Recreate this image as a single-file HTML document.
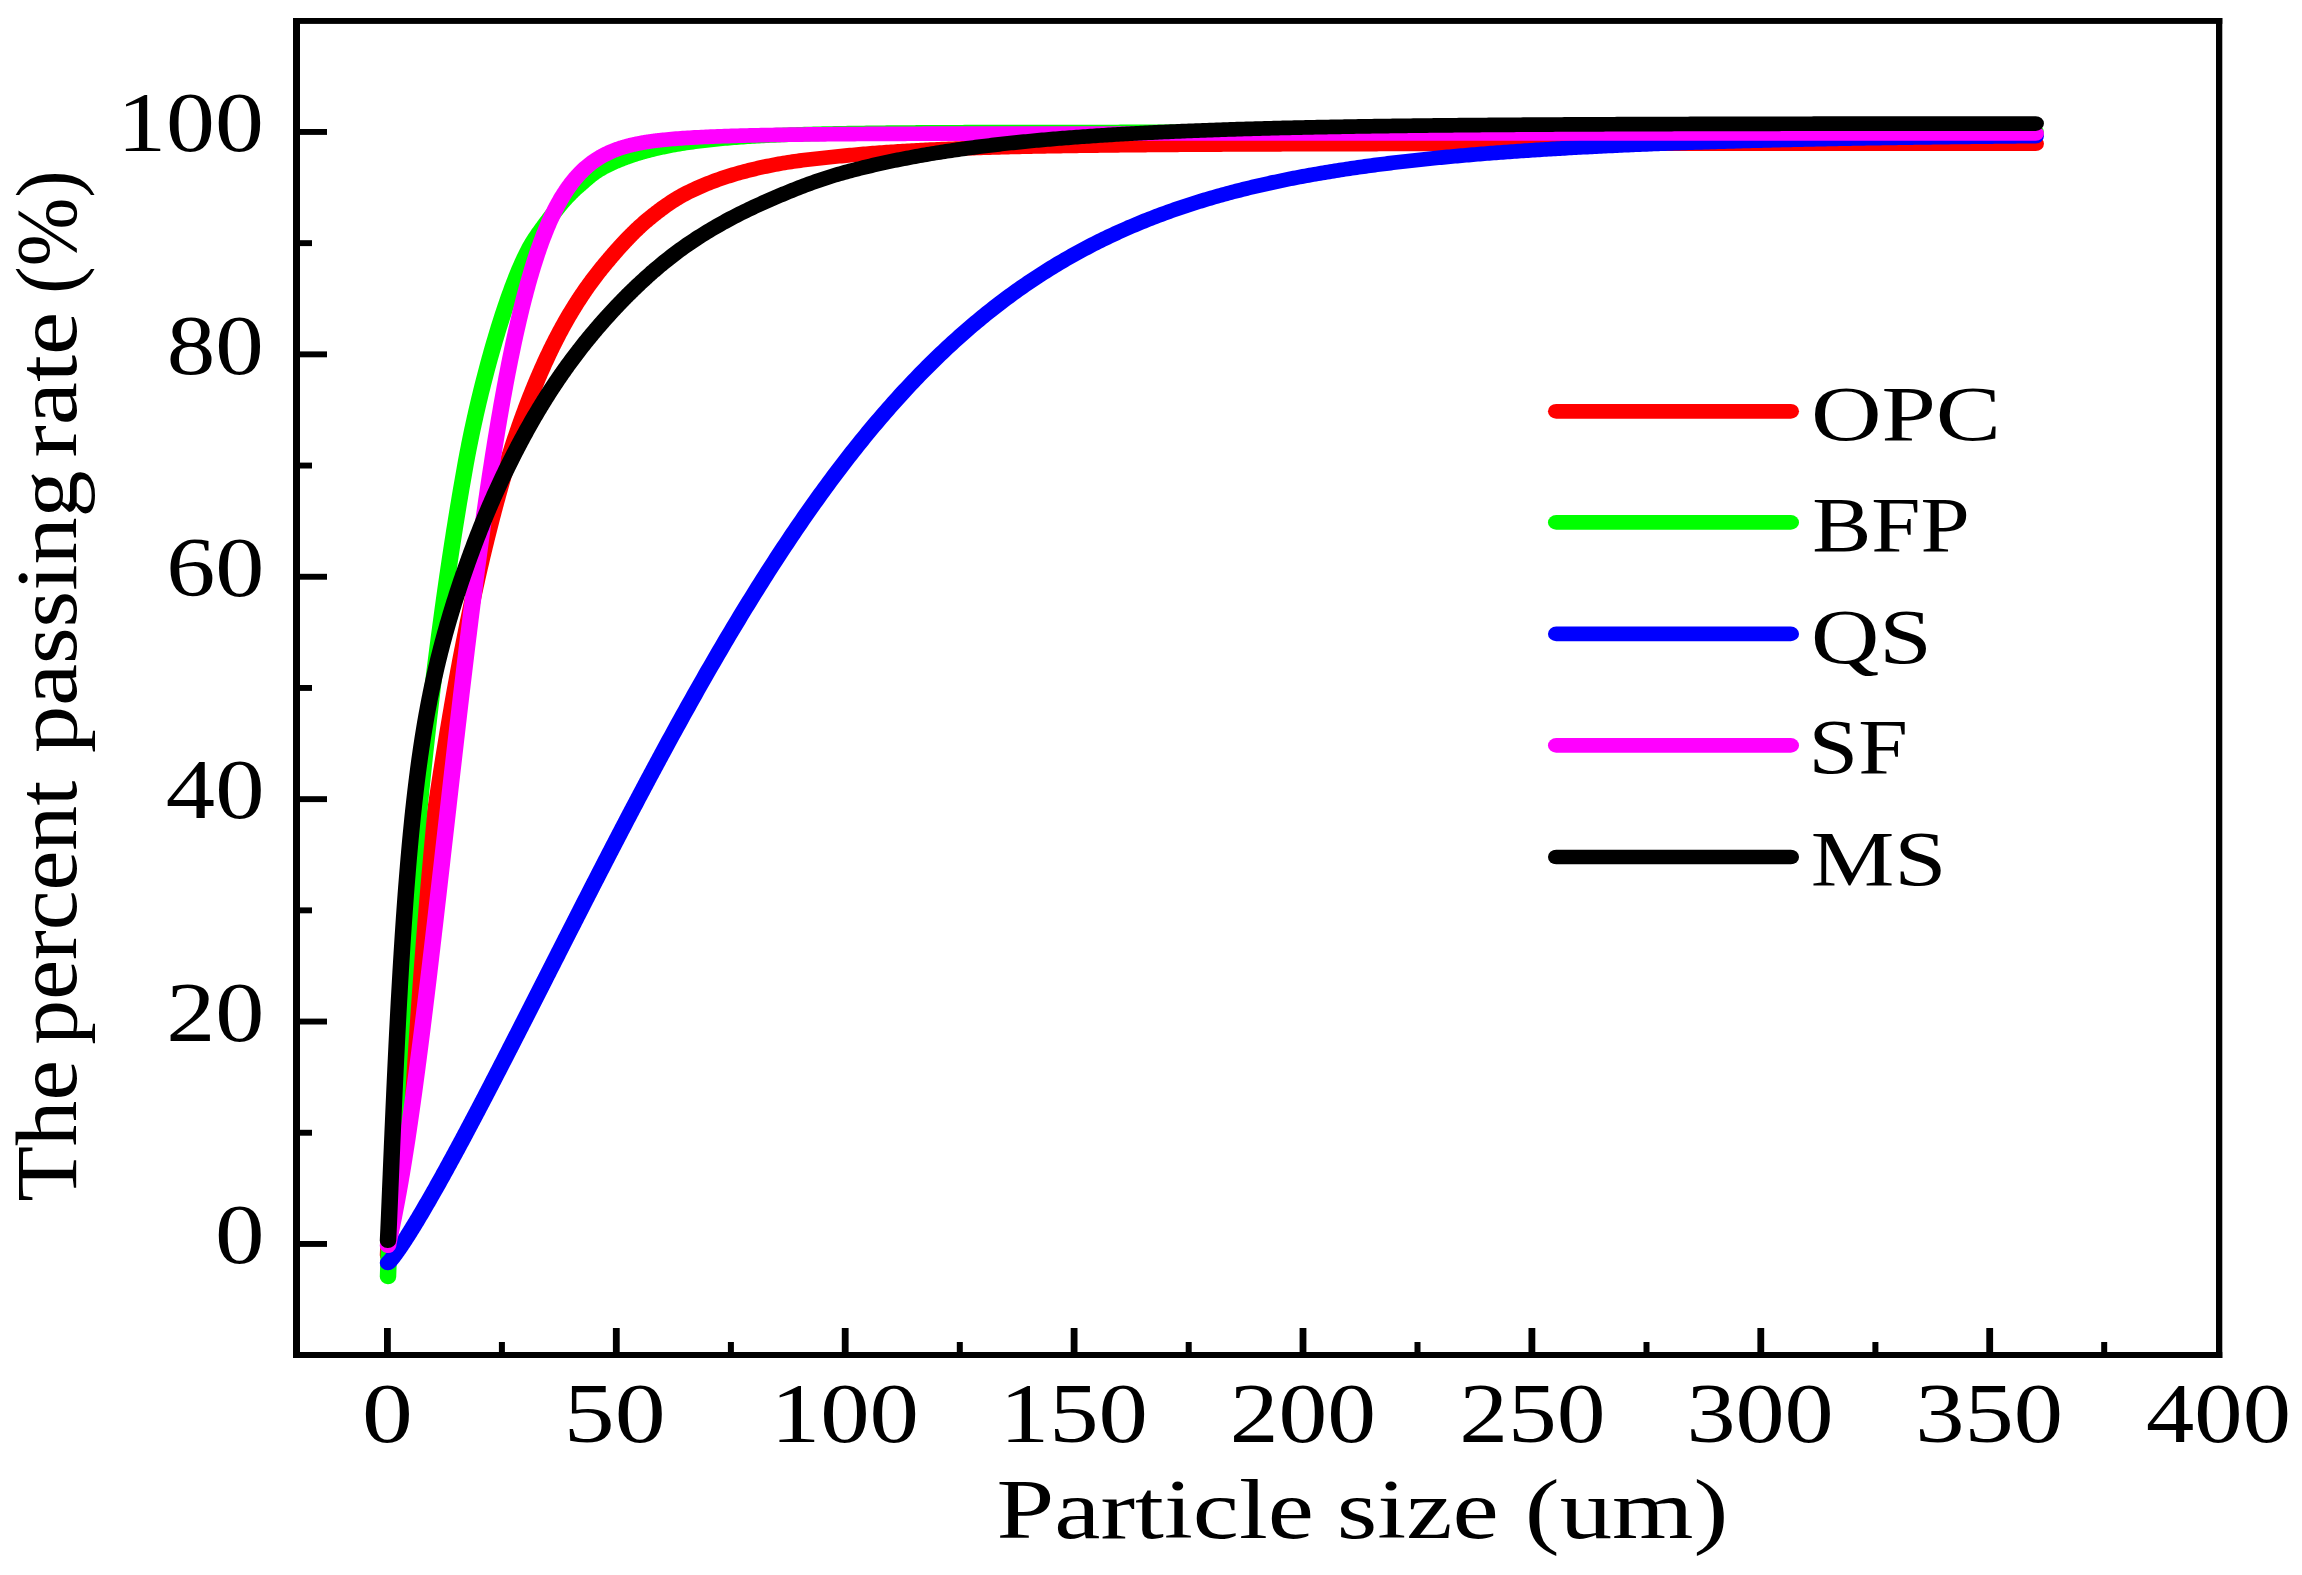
<!DOCTYPE html>
<html><head><meta charset="utf-8"><title>Particle size distribution</title>
<style>html,body{margin:0;padding:0;background:#fff}svg{display:block}text{font-family:"Liberation Serif",serif;fill:#000}</style></head><body>
<svg width="2302" height="1575" viewBox="0 0 2302 1575">
<rect width="2302" height="1575" fill="#fff"/>
<g transform="scale(1.12 1)" fill="none" stroke-width="14.7" stroke-linecap="round" stroke-linejoin="round">
<path stroke="#ff0000" d="M346.43 1255.12L346.94 1243.17L347.45 1233.96L347.96 1225.49L348.47 1217.47L348.98 1209.76L349.49 1202.30L350.00 1195.02L350.52 1187.92L351.03 1180.95L351.54 1174.12L352.05 1167.39L352.56 1160.77L353.07 1154.25L353.58 1147.81L354.09 1141.45L354.60 1135.17L355.11 1128.97L355.62 1122.83L356.13 1116.75L356.65 1110.74L357.16 1104.79L357.67 1098.90L358.18 1093.06L358.69 1087.27L359.20 1081.53L359.71 1075.85L360.22 1070.21L360.73 1064.62L361.24 1059.08L361.75 1053.58L362.26 1048.12L362.77 1042.71L363.29 1037.33L363.80 1032.00L364.31 1026.71L364.82 1021.45L365.33 1016.24L365.84 1011.06L366.35 1005.92L366.86 1000.82L367.37 995.75L367.88 990.71L368.39 985.72L368.90 980.75L369.42 975.82L369.93 970.92L370.44 966.05L370.95 961.22L371.46 956.42L371.97 951.65L372.48 946.91L372.99 942.20L373.50 937.52L374.01 932.87L374.52 928.25L375.03 923.66L375.55 919.10L376.06 914.57L376.57 910.07L377.08 905.59L377.59 901.14L378.10 896.72L378.61 892.33L379.12 887.96L379.63 883.62L380.14 879.31L380.65 875.02L381.16 870.76L381.68 866.53L382.19 862.32L382.70 858.13L383.21 853.97L383.72 849.84L384.23 845.73L384.74 841.64L385.25 837.58L385.76 833.55L386.27 829.53L386.78 825.55L387.29 821.58L387.81 817.64L388.32 813.72L388.83 809.83L389.34 805.95L389.85 802.10L390.36 798.28L390.87 794.47L391.38 790.69L391.89 786.93L392.40 783.19L392.91 779.47L393.42 775.78L393.94 772.11L394.45 768.45L394.96 764.82L395.47 761.21L395.98 757.62L396.49 754.06L397.00 750.51L397.51 746.98L398.02 743.48L398.53 739.99L399.04 736.52L399.55 733.08L400.07 729.65L400.58 726.24L401.09 722.86L401.60 719.49L402.11 716.14L402.62 712.81L403.13 709.50L403.64 706.21L404.15 702.94L404.66 699.69L405.17 696.46L405.68 693.24L406.20 690.04L406.71 686.86L407.22 683.70L407.73 680.56L408.24 677.44L408.75 674.33L409.26 671.24L409.77 668.17L410.28 665.12L410.79 662.08L411.30 659.06L411.81 656.06L412.33 653.08L412.84 650.11L413.35 647.16L413.86 644.23L414.37 641.31L414.88 638.42L415.39 635.53L415.90 632.67L416.41 629.82L416.92 626.98L417.43 624.17L417.94 621.37L418.46 618.58L418.97 615.81L419.48 613.06L419.99 610.32L420.50 607.60L421.01 604.89L421.52 602.20L422.03 599.53L422.54 596.87L423.05 594.22L423.56 591.59L424.07 588.98L424.58 586.38L425.10 583.79L425.61 581.22L426.12 578.67L426.63 576.13L427.14 573.60L427.65 571.09L428.16 568.59L428.67 566.11L429.18 563.64L429.69 561.19L430.20 558.75L430.71 556.32L431.23 553.91L431.74 551.51L432.25 549.13L432.76 546.76L433.27 544.40L433.78 542.06L434.29 539.73L434.80 537.41L435.31 535.11L435.82 532.82L436.33 530.54L436.84 528.28L437.36 526.03L437.87 523.79L438.38 521.56L438.89 519.35L439.40 517.15L439.91 514.97L440.42 512.79L440.93 510.63L441.44 508.48L441.95 506.34L442.46 504.22L442.97 502.11L443.49 500.01L444.00 497.92L444.51 495.85L445.02 493.78L445.53 491.73L446.04 489.69L446.55 487.66L447.06 485.65L447.57 483.64L448.08 481.65L448.59 479.67L449.10 477.70L449.62 475.74L450.13 473.80L450.64 471.87L451.15 469.95L451.66 468.04L452.17 466.15L452.68 464.27L453.19 462.40L453.70 460.54L454.21 458.69L454.72 456.86L455.23 455.04L455.75 453.23L456.26 451.43L456.77 449.64L457.28 447.87L457.79 446.10L458.30 444.35L458.81 442.61L459.32 440.88L459.83 439.16L460.34 437.45L460.85 435.75L461.36 434.06L461.88 432.39L462.39 430.72L462.90 429.06L463.41 427.42L463.92 425.78L464.43 424.16L464.94 422.54L465.45 420.93L465.96 419.34L466.47 417.75L466.98 416.18L467.49 414.61L468.01 413.05L468.52 411.50L469.03 409.96L469.54 408.43L470.05 406.91L470.56 405.40L471.07 403.90L471.58 402.40L472.09 400.92L472.60 399.44L473.11 397.98L473.62 396.52L474.14 395.07L474.65 393.62L475.16 392.19L475.67 390.76L476.18 389.34L476.69 387.93L477.20 386.53L477.71 385.14L478.22 383.75L478.73 382.37L479.24 381.00L479.75 379.64L480.26 378.28L480.78 376.93L481.29 375.59L481.80 374.25L482.31 372.93L482.82 371.61L483.33 370.30L483.84 369.00L484.35 367.70L484.86 366.42L485.37 365.14L485.88 363.87L486.39 362.61L486.91 361.35L487.42 360.11L487.93 358.87L488.44 357.63L488.95 356.41L489.46 355.19L489.97 353.98L490.48 352.78L490.99 351.59L491.50 350.40L492.01 349.22L492.52 348.05L493.04 346.88L493.55 345.72L494.06 344.57L494.57 343.43L495.08 342.29L495.59 341.16L496.10 340.03L496.61 338.92L497.12 337.81L497.63 336.70L498.14 335.60L498.65 334.51L499.17 333.43L499.68 332.35L500.19 331.28L500.70 330.22L501.21 329.16L501.72 328.11L502.23 327.06L502.74 326.02L503.25 324.99L503.76 323.97L504.27 322.94L504.78 321.93L505.30 320.92L505.81 319.92L506.32 318.92L506.83 317.93L507.34 316.95L507.85 315.97L508.36 315.00L508.87 314.03L509.38 313.07L509.89 312.11L510.40 311.16L510.91 310.22L511.43 309.28L511.94 308.35L512.45 307.42L512.96 306.50L513.47 305.58L513.98 304.67L514.49 303.76L515.00 302.86L515.51 301.96L516.02 301.07L516.53 300.19L517.04 299.31L517.56 298.43L518.07 297.56L518.58 296.69L519.09 295.83L519.60 294.98L520.11 294.13L520.62 293.28L521.13 292.44L521.64 291.60L522.15 290.77L522.66 289.95L523.17 289.12L523.69 288.31L524.20 287.49L524.71 286.68L525.22 285.88L525.73 285.08L526.24 284.29L526.75 283.50L527.26 282.71L527.77 281.93L528.28 281.15L528.79 280.38L529.30 279.61L529.82 278.84L530.33 278.08L530.84 277.32L531.35 276.57L531.86 275.82L532.37 275.08L532.88 274.34L533.39 273.60L533.90 272.87L534.41 272.14L534.92 271.42L535.43 270.69L535.94 269.98L536.46 269.26L536.97 268.55L537.48 267.85L537.99 267.14L538.50 266.45L539.01 265.75L539.52 265.06L540.03 264.36L540.54 263.67L541.05 262.98L541.56 262.30L542.07 261.61L542.59 260.93L543.10 260.25L543.61 259.57L544.12 258.90L544.63 258.22L545.14 257.55L545.65 256.88L546.16 256.22L546.67 255.55L547.18 254.89L547.69 254.23L548.20 253.57L548.72 252.91L549.23 252.26L549.74 251.61L550.25 250.96L550.76 250.31L551.27 249.67L551.78 249.03L552.29 248.39L552.80 247.75L553.31 247.12L553.82 246.49L554.33 245.86L554.85 245.23L555.36 244.61L555.87 243.99L556.38 243.37L556.89 242.75L557.40 242.14L557.91 241.53L558.42 240.92L558.93 240.32L559.44 239.72L559.95 239.12L560.46 238.52L560.98 237.93L561.49 237.34L562.00 236.75L562.51 236.17L563.02 235.59L563.53 235.01L564.04 234.43L564.55 233.86L565.06 233.29L565.57 232.72L566.08 232.16L566.59 231.60L567.11 231.05L567.62 230.49L568.13 229.94L568.64 229.40L569.15 228.85L569.66 228.31L570.17 227.78L570.68 227.24L571.19 226.71L571.70 226.19L572.21 225.66L572.72 225.15L573.24 224.63L573.75 224.12L574.26 223.61L574.77 223.10L575.28 222.60L575.79 222.10L576.30 221.61L576.81 221.12L577.32 220.63L577.83 220.15L578.34 219.67L578.85 219.20L579.37 218.73L579.88 218.26L580.39 217.79L580.90 217.33L581.41 216.86L581.92 216.40L582.43 215.94L582.94 215.49L583.45 215.03L583.96 214.58L584.47 214.13L584.98 213.68L585.50 213.23L586.01 212.79L586.52 212.34L587.03 211.90L587.54 211.46L588.05 211.03L588.56 210.59L589.07 210.16L589.58 209.73L590.09 209.30L590.60 208.88L591.11 208.46L591.62 208.04L593.67 206.38L595.71 204.77L597.75 203.20L599.80 201.67L601.84 200.20L603.88 198.77L605.93 197.40L607.97 196.08L610.01 194.82L612.06 193.62L614.10 192.46L616.14 191.33L618.19 190.23L620.23 189.15L622.27 188.11L624.32 187.09L626.36 186.10L628.40 185.13L630.45 184.18L632.49 183.26L634.53 182.37L636.58 181.49L638.62 180.64L640.66 179.81L642.71 179.00L644.75 178.21L646.79 177.44L648.84 176.70L650.88 175.97L652.92 175.25L654.97 174.56L657.01 173.88L659.05 173.22L661.10 172.58L663.14 171.95L665.18 171.34L667.23 170.75L669.27 170.17L671.31 169.60L673.36 169.05L675.40 168.51L677.44 167.99L679.49 167.47L681.53 166.97L683.57 166.49L685.62 166.01L687.66 165.55L689.70 165.09L691.75 164.65L693.79 164.22L695.83 163.80L697.88 163.40L699.92 163.01L701.96 162.63L704.01 162.27L706.05 161.92L708.09 161.58L710.14 161.25L712.18 160.93L714.22 160.62L716.27 160.32L718.31 160.03L720.35 159.75L722.40 159.48L724.44 159.21L726.48 158.95L728.53 158.69L730.57 158.44L732.61 158.19L734.66 157.95L736.70 157.71L738.74 157.48L740.79 157.24L742.83 157.01L744.87 156.78L746.92 156.55L748.96 156.32L751.00 156.10L753.05 155.87L755.09 155.63L757.13 155.40L759.18 155.18L761.22 154.96L763.26 154.75L765.31 154.54L767.35 154.33L769.39 154.13L771.44 153.93L773.48 153.74L775.52 153.55L777.57 153.37L779.61 153.18L781.65 153.01L783.70 152.83L785.74 152.66L787.78 152.50L789.83 152.34L791.87 152.18L793.91 152.02L795.96 151.87L798.00 151.72L800.04 151.57L802.09 151.43L804.13 151.29L806.17 151.15L808.22 151.02L810.26 150.89L812.30 150.76L814.35 150.63L816.39 150.51L818.43 150.39L820.47 150.27L822.52 150.15L824.56 150.04L826.60 149.92L828.65 149.82L830.69 149.71L832.73 149.60L834.78 149.50L836.82 149.40L838.86 149.30L840.91 149.20L842.95 149.11L844.99 149.01L847.04 148.92L849.08 148.83L851.12 148.74L853.17 148.66L855.21 148.57L857.25 148.49L859.30 148.41L861.34 148.33L863.38 148.25L865.43 148.17L867.47 148.10L869.51 148.03L871.56 147.95L873.60 147.88L875.64 147.81L877.69 147.74L879.73 147.68L881.77 147.61L883.82 147.55L885.86 147.48L887.90 147.42L889.95 147.36L891.99 147.30L894.03 147.24L896.08 147.18L898.12 147.13L900.16 147.07L902.21 147.02L904.25 146.96L906.29 146.91L908.34 146.86L910.38 146.81L912.42 146.76L914.47 146.71L916.51 146.66L918.55 146.61L920.60 146.57L922.64 146.52L924.68 146.48L926.73 146.43L928.77 146.39L930.81 146.35L932.86 146.31L934.90 146.27L936.94 146.23L938.99 146.19L941.03 146.15L943.07 146.11L945.12 146.07L947.16 146.04L949.20 146.00L951.25 145.96L953.29 145.93L955.33 145.90L957.38 145.86L959.42 145.83L961.46 145.80L963.51 145.76L965.55 145.73L967.59 145.70L969.64 145.67L971.68 145.64L973.72 145.61L975.77 145.58L977.81 145.55L979.85 145.53L981.90 145.50L983.94 145.47L985.98 145.45L988.03 145.42L990.07 145.39L992.11 145.37L994.16 145.34L996.20 145.32L998.24 145.30L1000.29 145.27L1002.33 145.25L1004.37 145.23L1006.42 145.20L1008.46 145.18L1010.50 145.16L1012.55 145.14L1014.59 145.12L1016.63 145.10L1018.68 145.08L1020.72 145.06L1022.76 145.04L1024.81 145.02L1026.85 145.00L1028.89 144.98L1030.94 144.96L1032.98 144.94L1035.02 144.92L1037.07 144.91L1039.11 144.89L1041.15 144.87L1043.20 144.85L1045.24 144.84L1047.28 144.82L1049.33 144.81L1051.37 144.79L1053.41 144.77L1055.45 144.76L1057.50 144.74L1059.54 144.73L1061.58 144.71L1063.63 144.70L1065.67 144.68L1067.71 144.67L1069.76 144.66L1071.80 144.64L1073.84 144.63L1075.89 144.62L1077.93 144.60L1079.97 144.59L1082.02 144.58L1084.06 144.57L1086.10 144.55L1088.15 144.54L1090.19 144.53L1092.23 144.52L1094.28 144.51L1096.32 144.50L1098.36 144.48L1100.41 144.47L1102.45 144.46L1104.49 144.45L1106.54 144.44L1108.58 144.43L1110.62 144.42L1112.67 144.41L1114.71 144.40L1116.75 144.39L1118.80 144.38L1120.84 144.37L1122.88 144.36L1124.93 144.35L1126.97 144.34L1129.01 144.34L1131.06 144.33L1133.10 144.32L1135.14 144.31L1137.19 144.30L1139.23 144.29L1141.27 144.29L1143.32 144.28L1145.36 144.27L1147.40 144.26L1149.45 144.25L1151.49 144.25L1153.53 144.24L1155.58 144.23L1157.62 144.22L1159.66 144.22L1161.71 144.21L1163.75 144.20L1165.79 144.20L1167.84 144.19L1169.88 144.18L1171.92 144.18L1173.97 144.17L1176.01 144.16L1178.05 144.16L1180.10 144.15L1182.14 144.14L1184.18 144.14L1186.23 144.13L1188.27 144.13L1190.31 144.12L1192.36 144.12L1194.40 144.11L1196.44 144.10L1198.49 144.10L1200.53 144.09L1202.57 144.09L1204.62 144.08L1206.66 144.08L1208.70 144.07L1210.75 144.07L1212.79 144.06L1214.83 144.06L1216.88 144.05L1218.92 144.05L1220.96 144.04L1223.01 144.04L1225.05 144.03L1227.09 144.03L1229.14 144.03L1231.18 144.02L1233.22 144.02L1235.27 144.01L1237.31 144.01L1239.35 144.00L1241.40 144.00L1243.44 144.00L1245.48 143.99L1247.53 143.99L1249.57 143.98L1251.61 143.98L1253.66 143.98L1255.70 143.97L1257.74 143.97L1259.79 143.97L1261.83 143.96L1263.87 143.96L1265.92 143.95L1267.96 143.95L1270.00 143.95L1272.05 143.94L1274.09 143.94L1276.13 143.94L1278.17 143.94L1280.22 143.93L1282.26 143.93L1284.30 143.93L1286.35 143.92L1288.39 143.92L1290.43 143.92L1292.48 143.91L1294.52 143.91L1296.56 143.91L1298.61 143.91L1300.65 143.90L1302.69 143.90L1304.74 143.90L1306.78 143.89L1308.82 143.89L1310.87 143.89L1312.91 143.89L1314.95 143.88L1317.00 143.88L1319.04 143.88L1321.08 143.88L1323.13 143.87L1325.17 143.87L1327.21 143.87L1329.26 143.87L1331.30 143.87L1333.34 143.86L1335.39 143.86L1337.43 143.86L1339.47 143.86L1341.52 143.85L1343.56 143.85L1345.60 143.85L1347.65 143.85L1349.69 143.85L1351.73 143.84L1353.78 143.84L1355.82 143.84L1357.86 143.84L1359.91 143.84L1361.95 143.84L1363.99 143.83L1366.04 143.83L1368.08 143.83L1370.12 143.83L1372.17 143.83L1374.21 143.82L1376.25 143.82L1378.30 143.82L1380.34 143.82L1382.38 143.82L1384.43 143.82L1386.47 143.82L1388.51 143.81L1390.56 143.81L1392.60 143.81L1394.64 143.81L1396.69 143.81L1398.73 143.81L1400.77 143.80L1402.82 143.80L1404.86 143.80L1406.90 143.80L1408.95 143.80L1410.99 143.80L1413.03 143.80L1415.08 143.80L1417.12 143.79L1419.16 143.79L1421.21 143.79L1423.25 143.79L1425.29 143.79L1427.34 143.79L1429.38 143.79L1431.42 143.79L1433.47 143.78L1435.51 143.78L1437.55 143.78L1439.60 143.78L1441.64 143.78L1443.68 143.78L1445.73 143.78L1447.77 143.78L1449.81 143.78L1451.86 143.77L1453.90 143.77L1455.94 143.77L1457.99 143.77L1460.03 143.77L1462.07 143.77L1464.12 143.77L1466.16 143.77L1468.20 143.77L1470.25 143.77L1472.29 143.76L1474.33 143.76L1476.38 143.76L1478.42 143.76L1480.46 143.76L1482.51 143.76L1484.55 143.76L1486.59 143.76L1488.64 143.76L1490.68 143.76L1492.72 143.76L1494.77 143.76L1496.81 143.75L1498.85 143.75L1500.90 143.75L1502.94 143.75L1504.98 143.75L1507.02 143.75L1509.07 143.75L1511.11 143.75L1513.15 143.75L1515.20 143.75L1517.24 143.75L1519.28 143.75L1521.33 143.75L1523.37 143.75L1525.41 143.74L1527.46 143.74L1529.50 143.74L1531.54 143.74L1533.59 143.74L1535.63 143.74L1537.67 143.74L1539.72 143.74L1541.76 143.74L1543.80 143.74L1545.85 143.74L1547.89 143.74L1549.93 143.74L1551.98 143.74L1554.02 143.74L1556.06 143.74L1558.11 143.74L1560.15 143.73L1562.19 143.73L1564.24 143.73L1566.28 143.73L1568.32 143.73L1570.37 143.73L1572.41 143.73L1574.45 143.73L1576.50 143.73L1578.54 143.73L1580.58 143.73L1582.63 143.73L1584.67 143.73L1586.71 143.73L1588.76 143.73L1590.80 143.73L1592.84 143.73L1594.89 143.73L1596.93 143.73L1598.97 143.73L1601.02 143.73L1603.06 143.73L1605.10 143.72L1607.15 143.72L1609.19 143.72L1611.23 143.72L1613.28 143.72L1615.32 143.72L1617.36 143.72L1619.41 143.72L1621.45 143.72L1623.49 143.72L1625.54 143.72L1627.58 143.72L1629.62 143.72L1631.67 143.72L1633.71 143.72L1635.75 143.72L1637.80 143.72L1639.84 143.72L1641.88 143.72L1643.93 143.72L1645.97 143.72L1648.01 143.72L1650.06 143.72L1652.10 143.72L1654.14 143.72L1656.19 143.72L1658.23 143.72L1660.27 143.72L1662.32 143.72L1664.36 143.72L1666.40 143.71L1668.45 143.71L1670.49 143.71L1672.53 143.71L1674.58 143.71L1676.62 143.71L1678.66 143.71L1680.71 143.71L1682.75 143.71L1684.79 143.71L1686.84 143.71L1688.88 143.71L1690.92 143.71L1692.97 143.71L1695.01 143.71L1697.05 143.71L1699.10 143.71L1701.14 143.71L1703.18 143.71L1705.23 143.71L1707.27 143.71L1709.31 143.71L1711.36 143.71L1713.40 143.71L1715.44 143.71L1717.49 143.71L1719.53 143.71L1721.57 143.71L1723.62 143.71L1725.66 143.71L1727.70 143.71L1729.75 143.71L1731.79 143.71L1733.83 143.71L1735.88 143.71L1737.92 143.71L1739.96 143.71L1742.00 143.71L1744.05 143.71L1746.09 143.71L1748.13 143.71L1750.18 143.71L1752.22 143.71L1754.26 143.71L1756.31 143.71L1758.35 143.71L1760.39 143.71L1762.44 143.71L1764.48 143.70L1766.52 143.70L1768.57 143.70L1770.61 143.70L1772.65 143.70L1774.70 143.70L1776.74 143.70L1778.78 143.70L1780.83 143.70L1782.87 143.70L1784.91 143.70L1786.96 143.70L1789.00 143.70L1791.04 143.70L1793.09 143.70L1795.13 143.70L1797.17 143.70L1799.22 143.70L1801.26 143.70L1803.30 143.70L1805.35 143.70L1807.39 143.70L1809.43 143.70L1811.48 143.70L1813.52 143.70L1815.56 143.70L1817.61 143.70"/>
<path stroke="#00ff00" d="M346.43 1276.80L346.94 1260.04L347.45 1245.78L347.96 1232.46L348.47 1219.75L348.98 1207.53L349.49 1195.71L350.00 1184.22L350.52 1173.04L351.03 1162.13L351.54 1151.47L352.05 1141.03L352.56 1130.81L353.07 1120.79L353.58 1110.95L354.09 1101.30L354.60 1091.81L355.11 1082.48L355.62 1073.31L356.13 1064.29L356.65 1055.40L357.16 1046.66L357.67 1038.04L358.18 1029.55L358.69 1021.19L359.20 1012.94L359.71 1004.81L360.22 996.79L360.73 988.88L361.24 981.07L361.75 973.37L362.26 965.76L362.77 958.25L363.29 950.84L363.80 943.52L364.31 936.28L364.82 929.14L365.33 922.08L365.84 915.10L366.35 908.21L366.86 901.39L367.37 894.65L367.88 887.99L368.39 881.40L368.90 874.88L369.42 868.43L369.93 862.06L370.44 855.75L370.95 849.51L371.46 843.33L371.97 837.22L372.48 831.17L372.99 825.18L373.50 819.25L374.01 813.38L374.52 807.56L375.03 801.81L375.55 796.11L376.06 790.46L376.57 784.87L377.08 779.33L377.59 773.84L378.10 768.40L378.61 763.01L379.12 757.66L379.63 752.37L380.14 747.12L380.65 741.92L381.16 736.77L381.68 731.65L382.19 726.59L382.70 721.56L383.21 716.58L383.72 711.63L384.23 706.73L384.74 701.87L385.25 697.05L385.76 692.27L386.27 687.52L386.78 682.81L387.29 678.14L387.81 673.51L388.32 668.91L388.83 664.34L389.34 659.81L389.85 655.32L390.36 650.86L390.87 646.43L391.38 642.03L391.89 637.67L392.40 633.34L392.91 629.03L393.42 624.76L393.94 620.53L394.45 616.32L394.96 612.14L395.47 607.99L395.98 603.86L396.49 599.77L397.00 595.71L397.51 591.67L398.02 587.66L398.53 583.68L399.04 579.72L399.55 575.79L400.07 571.89L400.58 568.02L401.09 564.17L401.60 560.34L402.11 556.54L402.62 552.77L403.13 549.02L403.64 545.30L404.15 541.60L404.66 537.92L405.17 534.27L405.68 530.65L406.20 527.04L406.71 523.46L407.22 519.91L407.73 516.38L408.24 512.87L408.75 509.38L409.26 505.92L409.77 502.48L410.28 499.06L410.79 495.67L411.30 492.30L411.81 488.95L412.33 485.62L412.84 482.31L413.35 479.03L413.86 475.77L414.37 472.53L414.88 469.32L415.39 466.12L415.90 462.95L416.42 459.80L416.94 456.67L417.47 453.56L418.00 450.48L418.54 447.42L419.07 444.37L419.62 441.35L420.16 438.36L420.71 435.38L421.26 432.42L421.82 429.49L422.38 426.58L422.94 423.69L423.50 420.82L424.06 417.97L424.63 415.14L425.20 412.34L425.77 409.55L426.34 406.79L426.91 404.05L427.48 401.33L428.06 398.63L428.63 395.95L429.21 393.30L429.79 390.66L430.37 388.05L430.95 385.46L431.52 382.89L432.10 380.34L432.68 377.81L433.26 375.31L433.84 372.82L434.42 370.36L435.00 367.92L435.58 365.50L436.16 363.10L436.74 360.72L437.32 358.36L437.90 356.02L438.47 353.71L439.05 351.41L439.63 349.14L440.20 346.89L440.78 344.65L441.35 342.44L441.92 340.25L442.50 338.08L443.07 335.94L443.64 333.81L444.21 331.70L444.77 329.62L445.34 327.55L445.91 325.51L446.47 323.48L447.04 321.48L447.60 319.49L448.16 317.53L448.72 315.59L449.28 313.66L449.84 311.76L450.40 309.88L450.95 308.01L451.51 306.17L452.06 304.35L452.61 302.54L453.17 300.76L453.72 298.99L454.26 297.24L454.81 295.52L455.36 293.81L455.90 292.12L456.45 290.45L456.99 288.80L457.53 287.16L458.07 285.55L458.60 283.95L459.14 282.37L459.68 280.81L460.21 279.27L460.75 277.75L461.28 276.24L461.82 274.75L462.35 273.28L462.89 271.82L463.42 270.39L463.96 268.97L464.49 267.56L465.03 266.17L465.56 264.80L466.10 263.45L466.64 262.11L467.18 260.79L467.71 259.48L468.25 258.19L468.79 256.92L469.34 255.66L469.88 254.42L470.42 253.19L470.96 251.97L471.51 250.77L472.06 249.59L472.60 248.42L473.15 247.26L473.72 246.12L474.29 244.99L474.87 243.88L475.45 242.78L476.04 241.69L476.64 240.62L477.24 239.56L477.85 238.51L478.45 237.48L479.06 236.45L479.67 235.44L480.27 234.45L480.88 233.46L481.49 232.49L482.09 231.53L482.69 230.58L483.29 229.64L483.89 228.71L484.48 227.80L485.07 226.89L485.66 226.00L486.24 225.12L486.82 224.25L487.39 223.38L487.95 222.53L488.52 221.69L489.07 220.86L489.62 220.04L490.16 219.23L490.70 218.42L491.23 217.63L491.76 216.85L492.28 216.07L492.79 215.31L493.30 214.55L493.81 213.80L494.31 213.06L494.81 212.33L495.31 211.61L495.81 210.89L496.30 210.19L496.79 209.49L497.28 208.80L497.77 208.12L498.26 207.44L498.74 206.77L499.23 206.11L499.71 205.46L500.19 204.81L500.67 204.17L501.15 203.54L501.62 202.92L502.10 202.30L502.58 201.69L503.05 201.08L503.52 200.48L504.00 199.89L504.47 199.30L504.94 198.72L505.41 198.15L505.88 197.58L506.35 197.02L506.82 196.46L507.29 195.91L507.76 195.36L508.23 194.82L508.70 194.29L509.16 193.76L509.63 193.24L510.10 192.72L510.57 192.21L511.03 191.70L511.50 191.19L511.97 190.69L512.43 190.20L512.90 189.71L513.37 189.23L513.83 188.75L514.30 188.27L514.77 187.80L515.23 187.34L515.70 186.88L516.17 186.42L516.63 185.97L517.10 185.52L517.57 185.07L518.02 184.63L518.47 184.20L518.92 183.77L519.35 183.34L519.79 182.91L520.21 182.49L520.64 182.08L521.06 181.66L521.47 181.25L521.88 180.85L522.29 180.45L522.70 180.05L523.11 179.65L523.51 179.26L523.91 178.88L524.31 178.49L524.72 178.11L525.12 177.73L525.52 177.36L525.92 176.99L526.33 176.62L526.73 176.26L527.13 175.90L527.54 175.54L527.95 175.18L528.36 174.83L528.77 174.48L529.19 174.14L529.60 173.80L530.02 173.46L530.44 173.12L530.87 172.78L531.29 172.45L531.72 172.13L532.16 171.80L532.59 171.48L533.03 171.16L533.48 170.84L533.92 170.53L534.37 170.21L534.83 169.91L535.29 169.60L535.75 169.29L536.21 168.99L536.68 168.69L537.16 168.40L537.63 168.10L538.11 167.81L538.60 167.52L539.09 167.24L539.57 166.95L540.06 166.67L540.55 166.39L541.04 166.12L541.52 165.84L542.01 165.57L542.50 165.30L542.99 165.03L543.48 164.77L543.97 164.50L544.46 164.24L544.95 163.98L545.44 163.73L545.93 163.47L546.43 163.22L546.92 162.97L547.41 162.72L547.90 162.47L548.39 162.23L548.89 161.99L549.38 161.75L549.88 161.51L550.37 161.27L550.86 161.04L551.36 160.80L551.85 160.57L552.35 160.35L552.84 160.12L553.34 159.89L553.84 159.67L554.33 159.45L554.83 159.23L555.32 159.01L555.82 158.80L556.32 158.58L556.82 158.37L557.32 158.16L557.81 157.95L558.31 157.74L558.81 157.54L559.31 157.34L559.81 157.13L560.31 156.93L560.81 156.73L561.31 156.54L561.81 156.34L562.31 156.15L562.81 155.96L563.31 155.76L563.81 155.58L564.31 155.39L564.81 155.20L565.31 155.02L565.82 154.83L566.32 154.65L566.82 154.47L567.32 154.29L567.83 154.12L568.33 153.94L568.83 153.77L569.34 153.59L569.84 153.42L570.34 153.25L570.85 153.08L571.35 152.92L571.86 152.75L572.36 152.59L572.86 152.42L573.37 152.26L573.87 152.10L574.38 151.94L574.88 151.78L575.39 151.63L575.90 151.47L576.40 151.32L576.91 151.16L577.41 151.01L577.92 150.86L578.43 150.71L578.93 150.57L579.44 150.42L579.95 150.27L580.45 150.13L580.96 149.99L581.47 149.84L581.97 149.70L582.48 149.56L582.99 149.42L583.50 149.29L584.00 149.15L584.51 149.01L585.02 148.88L585.53 148.75L586.04 148.61L586.55 148.48L587.05 148.35L587.56 148.22L588.07 148.10L588.58 147.97L589.09 147.84L589.60 147.72L590.11 147.60L590.62 147.47L591.13 147.35L591.64 147.23L593.67 146.76L595.71 146.30L597.76 145.85L599.80 145.42L601.84 145.01L603.88 144.60L605.93 144.21L607.97 143.84L610.01 143.47L612.06 143.11L614.10 142.77L616.14 142.44L618.19 142.12L620.23 141.80L622.27 141.50L624.32 141.21L626.36 140.93L628.40 140.65L630.45 140.38L632.49 140.13L634.53 139.88L636.58 139.63L638.62 139.40L640.66 139.17L642.71 138.95L644.75 138.74L646.79 138.53L648.84 138.33L650.88 138.14L652.92 137.95L654.97 137.77L657.01 137.59L659.05 137.42L661.10 137.25L663.14 137.09L665.18 136.94L667.23 136.79L669.27 136.64L671.31 136.50L673.36 136.36L675.40 136.23L677.44 136.10L679.49 135.97L681.53 135.85L683.57 135.74L685.62 135.62L687.66 135.51L689.70 135.40L691.75 135.30L693.79 135.20L695.83 135.10L697.88 135.01L699.92 134.91L701.96 134.83L704.01 134.74L706.05 134.66L708.09 134.57L710.14 134.50L712.18 134.42L714.22 134.35L716.27 134.27L718.31 134.20L720.35 134.14L722.40 134.07L724.44 134.01L726.48 133.95L728.53 133.89L730.57 133.83L732.61 133.77L734.66 133.72L736.70 133.67L738.74 133.61L740.79 133.57L742.83 133.52L744.87 133.47L746.92 133.43L748.96 133.38L751.00 133.34L753.05 133.30L755.09 133.26L757.13 133.22L759.18 133.18L761.22 133.14L763.26 133.11L765.31 133.07L767.35 133.04L769.39 133.01L771.44 132.98L773.48 132.95L775.52 132.92L777.57 132.89L779.61 132.86L781.65 132.83L783.70 132.81L785.74 132.78L787.78 132.76L789.83 132.73L791.87 132.71L793.91 132.69L795.96 132.66L798.00 132.64L800.04 132.62L802.09 132.60L804.13 132.58L806.17 132.56L808.22 132.55L810.26 132.53L812.30 132.51L814.35 132.49L816.39 132.48L818.43 132.46L820.47 132.45L822.52 132.43L824.56 132.42L826.60 132.40L828.65 132.39L830.69 132.38L832.73 132.36L834.78 132.35L836.82 132.34L838.86 132.33L840.91 132.32L842.95 132.31L844.99 132.29L847.04 132.28L849.08 132.27L851.12 132.26L853.17 132.25L855.21 132.25L857.25 132.24L859.30 132.23L861.34 132.22L863.38 132.21L865.43 132.20L867.47 132.20L869.51 132.19L871.56 132.18L873.60 132.17L875.64 132.17L877.69 132.16L879.73 132.15L881.77 132.15L883.82 132.14L885.86 132.14L887.90 132.13L889.95 132.12L891.99 132.12L894.03 132.11L896.08 132.11L898.12 132.10L900.16 132.10L902.21 132.09L904.25 132.09L906.29 132.08L908.34 132.08L910.38 132.08L912.42 132.07L914.47 132.07L916.51 132.06L918.55 132.06L920.60 132.06L922.64 132.05L924.68 132.05L926.73 132.05L928.77 132.04L930.81 132.04L932.86 132.04L934.90 132.03L936.94 132.03L938.99 132.03L941.03 132.03L943.07 132.02L945.12 132.02L947.16 132.02L949.20 132.02L951.25 132.01L953.29 132.01L955.33 132.01L957.38 132.01L959.42 132.01L961.46 132.00L963.51 132.00L965.55 132.00L967.59 132.00L969.64 132.00L971.68 131.99L973.72 131.99L975.77 131.99L977.81 131.99L979.85 131.99L981.90 131.99L983.94 131.98L985.98 131.98L988.03 131.98L990.07 131.98L992.11 131.98L994.16 131.98L996.20 131.98L998.24 131.98L1000.29 131.97L1002.33 131.97L1004.37 131.97L1006.42 131.97L1008.46 131.97L1010.50 131.97L1012.55 131.97L1014.59 131.97L1016.63 131.97L1018.68 131.97L1020.72 131.96L1022.76 131.96L1024.81 131.96L1026.85 131.96L1028.89 131.96L1030.94 131.96L1032.98 131.96L1035.02 131.96L1037.07 131.96L1039.11 131.96L1041.15 131.96L1043.20 131.96L1045.24 131.96L1047.28 131.96L1049.33 131.95L1051.37 131.95L1053.41 131.95L1055.45 131.95L1057.50 131.95L1059.54 131.95L1061.58 131.95L1063.63 131.95L1065.67 131.95L1067.71 131.95L1069.76 131.95L1071.80 131.95L1073.84 131.95L1075.89 131.95L1077.93 131.95L1079.97 131.95L1082.02 131.95L1084.06 131.95L1086.10 131.95L1088.15 131.95L1090.19 131.95L1092.23 131.95L1094.28 131.95L1096.32 131.94L1098.36 131.94L1100.41 131.94L1102.45 131.94L1104.49 131.94L1106.54 131.94L1108.58 131.94L1110.62 131.94L1112.67 131.94L1114.71 131.94L1116.75 131.94L1118.80 131.94L1120.84 131.94L1122.88 131.94L1124.93 131.94L1126.97 131.94L1129.01 131.94L1131.06 131.94L1133.10 131.94L1135.14 131.94L1137.19 131.94L1139.23 131.94L1141.27 131.94L1143.32 131.94L1145.36 131.94L1147.40 131.94L1149.45 131.94L1151.49 131.94L1153.53 131.94L1155.58 131.94L1157.62 131.94L1159.66 131.94L1161.71 131.94L1163.75 131.94L1165.79 131.94L1167.84 131.94L1169.88 131.94L1171.92 131.94L1173.97 131.94L1176.01 131.94L1178.05 131.94L1180.10 131.94L1182.14 131.94L1184.18 131.94L1186.23 131.94L1188.27 131.94L1190.31 131.94L1192.36 131.94L1194.40 131.94L1196.44 131.94L1198.49 131.94L1200.53 131.94L1202.57 131.94L1204.62 131.94L1206.66 131.94L1208.70 131.94L1210.75 131.94L1212.79 131.94L1214.83 131.94L1216.88 131.94L1218.92 131.94L1220.96 131.94L1223.01 131.94L1225.05 131.94L1227.09 131.94L1229.14 131.94L1231.18 131.94L1233.22 131.94L1235.27 131.94L1237.31 131.94L1239.35 131.94L1241.40 131.94L1243.44 131.94L1245.48 131.94L1247.53 131.94L1249.57 131.94L1251.61 131.94L1253.66 131.94L1255.70 131.94L1257.74 131.94L1259.79 131.94L1261.83 131.94L1263.87 131.94L1265.92 131.94L1267.96 131.94L1270.00 131.94L1272.05 131.94L1274.09 131.94L1276.13 131.94L1278.17 131.94L1280.22 131.94L1282.26 131.94L1284.30 131.94L1286.35 131.94L1288.39 131.94L1290.43 131.94L1292.48 131.94L1294.52 131.94L1296.56 131.94L1298.61 131.94L1300.65 131.94L1302.69 131.93L1304.74 131.93L1306.78 131.93L1308.82 131.93L1310.87 131.93L1312.91 131.93L1314.95 131.93L1317.00 131.93L1319.04 131.93L1321.08 131.93L1323.13 131.93L1325.17 131.93L1327.21 131.93L1329.26 131.93L1331.30 131.93L1333.34 131.93L1335.39 131.93L1337.43 131.93L1339.47 131.93L1341.52 131.93L1343.56 131.93L1345.60 131.93L1347.65 131.93L1349.69 131.93L1351.73 131.93L1353.78 131.93L1355.82 131.93L1357.86 131.93L1359.91 131.93L1361.95 131.93L1363.99 131.93L1366.04 131.93L1368.08 131.93L1370.12 131.93L1372.17 131.93L1374.21 131.93L1376.25 131.93L1378.30 131.93L1380.34 131.93L1382.38 131.93L1384.43 131.93L1386.47 131.93L1388.51 131.93L1390.56 131.93L1392.60 131.93L1394.64 131.93L1396.69 131.93L1398.73 131.93L1400.77 131.93L1402.82 131.93L1404.86 131.93L1406.90 131.93L1408.95 131.93L1410.99 131.93L1413.03 131.93L1415.08 131.93L1417.12 131.93L1419.16 131.93L1421.21 131.93L1423.25 131.93L1425.29 131.93L1427.34 131.93L1429.38 131.93L1431.42 131.93L1433.47 131.93L1435.51 131.93L1437.55 131.93L1439.60 131.93L1441.64 131.93L1443.68 131.93L1445.73 131.93L1447.77 131.93L1449.81 131.93L1451.86 131.93L1453.90 131.93L1455.94 131.93L1457.99 131.93L1460.03 131.93L1462.07 131.93L1464.12 131.93L1466.16 131.93L1468.20 131.93L1470.25 131.93L1472.29 131.93L1474.33 131.93L1476.38 131.93L1478.42 131.93L1480.46 131.93L1482.51 131.93L1484.55 131.93L1486.59 131.93L1488.64 131.93L1490.68 131.93L1492.72 131.93L1494.77 131.93L1496.81 131.93L1498.85 131.93L1500.90 131.93L1502.94 131.93L1504.98 131.93L1507.02 131.93L1509.07 131.93L1511.11 131.93L1513.15 131.93L1515.20 131.93L1517.24 131.93L1519.28 131.93L1521.33 131.93L1523.37 131.93L1525.41 131.93L1527.46 131.93L1529.50 131.93L1531.54 131.93L1533.59 131.93L1535.63 131.93L1537.67 131.93L1539.72 131.93L1541.76 131.93L1543.80 131.93L1545.85 131.93L1547.89 131.93L1549.93 131.93L1551.98 131.93L1554.02 131.93L1556.06 131.93L1558.11 131.93L1560.15 131.93L1562.19 131.93L1564.24 131.93L1566.28 131.93L1568.32 131.93L1570.37 131.93L1572.41 131.93L1574.45 131.93L1576.50 131.93L1578.54 131.93L1580.58 131.93L1582.63 131.93L1584.67 131.93L1586.71 131.93L1588.76 131.93L1590.80 131.93L1592.84 131.93L1594.89 131.93L1596.93 131.93L1598.97 131.93L1601.02 131.93L1603.06 131.93L1605.10 131.93L1607.15 131.93L1609.19 131.93L1611.23 131.93L1613.28 131.93L1615.32 131.93L1617.36 131.93L1619.41 131.93L1621.45 131.93L1623.49 131.93L1625.54 131.93L1627.58 131.93L1629.62 131.93L1631.67 131.93L1633.71 131.93L1635.75 131.93L1637.80 131.93L1639.84 131.93L1641.88 131.93L1643.93 131.93L1645.97 131.93L1648.01 131.93L1650.06 131.93L1652.10 131.93L1654.14 131.93L1656.19 131.93L1658.23 131.93L1660.27 131.93L1662.32 131.93L1664.36 131.93L1666.40 131.93L1668.45 131.93L1670.49 131.93L1672.53 131.93L1674.58 131.93L1676.62 131.93L1678.66 131.93L1680.71 131.93L1682.75 131.93L1684.79 131.93L1686.84 131.93L1688.88 131.93L1690.92 131.93L1692.97 131.93L1695.01 131.93L1697.05 131.93L1699.10 131.93L1701.14 131.93L1703.18 131.93L1705.23 131.93L1707.27 131.93L1709.31 131.93L1711.36 131.93L1713.40 131.93L1715.44 131.93L1717.49 131.93L1719.53 131.93L1721.57 131.93L1723.62 131.93L1725.66 131.93L1727.70 131.93L1729.75 131.93L1731.79 131.93L1733.83 131.93L1735.88 131.93L1737.92 131.93L1739.96 131.93L1742.00 131.93L1744.05 131.93L1746.09 131.93L1748.13 131.93L1750.18 131.93L1752.22 131.93L1754.26 131.93L1756.31 131.93L1758.35 131.93L1760.39 131.93L1762.44 131.93L1764.48 131.93L1766.52 131.93L1768.57 131.93L1770.61 131.93L1772.65 131.93L1774.70 131.93L1776.74 131.93L1778.78 131.93L1780.83 131.93L1782.87 131.93L1784.91 131.93L1786.96 131.93L1789.00 131.93L1791.04 131.93L1793.09 131.93L1795.13 131.93L1797.17 131.93L1799.22 131.93L1801.26 131.93L1803.30 131.93L1805.35 131.93L1807.39 131.93L1809.43 131.93L1811.48 131.93L1813.52 131.93L1815.56 131.93L1817.61 131.93"/>
<path stroke="#0000ff" d="M346.43 1262.90L346.94 1262.42L347.45 1261.83L347.96 1261.21L348.47 1260.55L348.98 1259.87L349.49 1259.17L350.00 1258.46L350.52 1257.73L351.03 1256.99L351.54 1256.23L352.05 1255.47L352.56 1254.69L353.07 1253.91L353.58 1253.12L354.09 1252.32L354.60 1251.51L355.11 1250.70L355.62 1249.88L356.13 1249.05L356.65 1248.22L357.16 1247.38L357.67 1246.53L358.18 1245.68L358.69 1244.83L359.20 1243.97L359.71 1243.10L360.22 1242.23L360.73 1241.36L361.24 1240.48L361.75 1239.60L362.26 1238.71L362.77 1237.82L363.29 1236.92L363.80 1236.03L364.31 1235.12L364.82 1234.22L365.33 1233.31L365.84 1232.40L366.35 1231.48L366.86 1230.56L367.37 1229.64L367.88 1228.71L368.39 1227.78L368.90 1226.85L369.42 1225.92L369.93 1224.98L370.44 1224.04L370.95 1223.10L371.46 1222.15L371.97 1221.20L372.48 1220.25L372.99 1219.30L373.50 1218.34L374.01 1217.39L374.52 1216.42L375.03 1215.46L375.55 1214.50L376.06 1213.53L376.57 1212.56L377.08 1211.59L377.59 1210.61L378.10 1209.64L378.61 1208.66L379.12 1207.68L379.63 1206.70L380.14 1205.71L380.65 1204.73L381.16 1203.74L381.68 1202.75L382.19 1201.76L382.70 1200.76L383.21 1199.77L383.72 1198.77L384.23 1197.77L384.74 1196.77L385.25 1195.77L385.76 1194.76L386.27 1193.76L386.78 1192.75L387.29 1191.74L387.81 1190.73L388.32 1189.72L388.83 1188.70L389.34 1187.69L389.85 1186.67L390.36 1185.65L390.87 1184.63L391.38 1183.61L391.89 1182.59L392.40 1181.56L392.91 1180.54L393.42 1179.51L393.94 1178.48L394.45 1177.45L394.96 1176.42L395.47 1175.39L395.98 1174.36L396.49 1173.32L397.00 1172.29L397.51 1171.25L398.02 1170.21L398.53 1169.17L399.04 1168.13L399.55 1167.09L400.07 1166.04L400.58 1165.00L401.09 1163.95L401.60 1162.90L402.11 1161.86L402.62 1160.81L403.13 1159.76L403.64 1158.71L404.15 1157.65L404.66 1156.60L405.17 1155.54L405.68 1154.49L406.20 1153.43L406.71 1152.37L407.22 1151.32L407.73 1150.26L408.24 1149.20L408.75 1148.13L409.26 1147.07L409.77 1146.01L410.28 1144.94L410.79 1143.88L411.30 1142.81L411.81 1141.74L412.33 1140.68L412.84 1139.61L413.35 1138.54L413.86 1137.47L414.37 1136.39L414.88 1135.32L415.39 1134.25L415.90 1133.17L416.41 1132.10L416.92 1131.02L417.43 1129.95L417.94 1128.87L418.46 1127.79L418.97 1126.71L419.48 1125.63L419.99 1124.55L420.50 1123.47L421.01 1122.39L421.52 1121.31L422.03 1120.22L422.54 1119.14L423.05 1118.05L423.56 1116.97L424.07 1115.88L424.58 1114.80L425.10 1113.71L425.61 1112.62L426.12 1111.53L426.63 1110.44L427.14 1109.35L427.65 1108.26L428.16 1107.17L428.67 1106.08L429.18 1104.98L429.69 1103.89L430.20 1102.80L430.71 1101.70L431.23 1100.61L431.74 1099.51L432.25 1098.41L432.76 1097.32L433.27 1096.22L433.78 1095.12L434.29 1094.02L434.80 1092.92L435.31 1091.82L435.82 1090.72L436.33 1089.62L436.84 1088.52L437.36 1087.42L437.87 1086.32L438.38 1085.22L438.89 1084.11L439.40 1083.01L439.91 1081.90L440.42 1080.80L440.93 1079.69L441.44 1078.59L441.95 1077.48L442.46 1076.38L442.97 1075.27L443.49 1074.16L444.00 1073.05L444.51 1071.95L445.02 1070.84L445.53 1069.73L446.04 1068.62L446.55 1067.51L447.06 1066.40L447.57 1065.29L448.08 1064.18L448.59 1063.06L449.10 1061.95L449.62 1060.84L450.13 1059.73L450.64 1058.62L451.15 1057.50L451.66 1056.39L452.17 1055.27L452.68 1054.16L453.19 1053.05L453.70 1051.93L454.21 1050.81L454.72 1049.70L455.23 1048.58L455.75 1047.47L456.26 1046.35L456.77 1045.23L457.28 1044.12L457.79 1043.00L458.30 1041.88L458.81 1040.76L459.32 1039.64L459.83 1038.53L460.34 1037.41L460.85 1036.29L461.36 1035.17L461.88 1034.05L462.39 1032.93L462.90 1031.81L463.41 1030.69L463.92 1029.57L464.43 1028.45L464.94 1027.33L465.45 1026.21L465.96 1025.08L466.47 1023.96L466.98 1022.84L467.49 1021.72L468.01 1020.60L468.52 1019.47L469.03 1018.35L469.54 1017.23L470.05 1016.11L470.56 1014.98L471.07 1013.86L471.58 1012.74L472.09 1011.61L472.60 1010.49L473.11 1009.36L473.62 1008.24L474.14 1007.12L474.65 1005.99L475.16 1004.87L475.67 1003.74L476.18 1002.62L476.69 1001.49L477.20 1000.37L477.71 999.24L478.22 998.12L478.73 996.99L479.24 995.87L479.75 994.74L480.26 993.62L480.78 992.49L481.29 991.37L481.80 990.24L482.31 989.11L482.82 987.99L483.33 986.86L483.84 985.74L484.35 984.61L484.86 983.48L485.37 982.36L485.88 981.23L486.39 980.11L486.91 978.98L487.42 977.85L487.93 976.73L488.44 975.60L488.95 974.47L489.46 973.35L489.97 972.22L490.48 971.09L490.99 969.97L491.50 968.84L492.01 967.71L492.52 966.59L493.04 965.46L493.55 964.34L494.06 963.21L494.57 962.08L495.08 960.96L495.59 959.83L496.10 958.70L496.61 957.58L497.12 956.45L497.63 955.33L498.14 954.20L498.65 953.07L499.17 951.95L499.68 950.82L500.19 949.70L500.70 948.57L501.21 947.44L501.72 946.32L502.23 945.19L502.74 944.07L503.25 942.94L503.76 941.82L504.27 940.69L504.78 939.57L505.30 938.44L505.81 937.32L506.32 936.19L506.83 935.07L507.34 933.94L507.85 932.82L508.36 931.70L508.87 930.57L509.38 929.45L509.89 928.32L510.40 927.20L510.91 926.08L511.43 924.95L511.94 923.83L512.45 922.71L512.96 921.58L513.47 920.46L513.98 919.34L514.49 918.22L515.00 917.09L515.51 915.97L516.02 914.85L516.53 913.73L517.04 912.61L517.56 911.49L518.07 910.37L518.58 909.24L519.09 908.12L519.60 907.00L520.11 905.88L520.62 904.76L521.13 903.64L521.64 902.52L522.15 901.40L522.66 900.29L523.17 899.17L523.69 898.05L524.20 896.93L524.71 895.81L525.22 894.69L525.73 893.58L526.24 892.46L526.75 891.34L527.26 890.22L527.77 889.11L528.28 887.99L528.79 886.87L529.30 885.76L529.82 884.64L530.33 883.53L530.84 882.41L531.35 881.30L531.86 880.18L532.37 879.07L532.88 877.96L533.39 876.84L533.90 875.73L534.41 874.62L534.92 873.50L535.43 872.39L535.94 871.28L536.46 870.17L536.97 869.06L537.48 867.95L537.99 866.84L538.50 865.72L539.01 864.61L539.52 863.51L540.03 862.40L540.54 861.29L541.05 860.18L541.56 859.07L542.07 857.96L542.59 856.86L543.10 855.75L543.61 854.64L544.12 853.53L544.63 852.43L545.14 851.32L545.65 850.22L546.16 849.11L546.67 848.01L547.18 846.90L547.69 845.80L548.20 844.70L548.72 843.59L549.23 842.49L549.74 841.39L550.25 840.29L550.76 839.19L551.27 838.09L551.78 836.99L552.29 835.89L552.80 834.79L553.31 833.69L553.82 832.59L554.33 831.49L554.85 830.39L555.36 829.30L555.87 828.20L556.38 827.10L556.89 826.01L557.40 824.91L557.91 823.82L558.42 822.72L558.93 821.63L559.44 820.53L559.95 819.44L560.46 818.35L560.98 817.26L561.49 816.16L562.00 815.07L562.51 813.98L563.02 812.89L563.53 811.80L564.04 810.71L564.55 809.62L565.06 808.54L565.57 807.45L566.08 806.36L566.59 805.27L567.11 804.19L567.62 803.10L568.13 802.02L568.64 800.93L569.15 799.85L569.66 798.76L570.17 797.68L570.68 796.60L571.19 795.52L571.70 794.43L572.21 793.35L572.72 792.27L573.24 791.19L573.75 790.11L574.26 789.04L574.77 787.96L575.28 786.88L575.79 785.80L576.30 784.73L576.81 783.65L577.32 782.58L577.83 781.50L578.34 780.43L578.85 779.35L579.37 778.28L579.88 777.21L580.39 776.14L580.90 775.07L581.41 774.00L581.92 772.93L582.43 771.86L582.94 770.79L583.45 769.72L583.96 768.65L584.47 767.59L584.98 766.52L585.50 765.45L586.01 764.39L586.52 763.32L587.03 762.26L587.54 761.20L588.05 760.13L588.56 759.07L589.07 758.01L589.58 756.95L590.09 755.89L590.60 754.83L591.11 753.77L591.62 752.72L593.67 748.49L595.71 744.28L597.75 740.07L599.80 735.88L601.84 731.70L603.88 727.53L605.93 723.38L607.97 719.23L610.01 715.10L612.06 710.98L614.10 706.87L616.14 702.77L618.19 698.69L620.23 694.61L622.27 690.56L624.32 686.51L626.36 682.48L628.40 678.46L630.45 674.46L632.49 670.47L634.53 666.49L636.58 662.53L638.62 658.58L640.66 654.64L642.71 650.72L644.75 646.82L646.79 642.93L648.84 639.05L650.88 635.19L652.92 631.34L654.97 627.51L657.01 623.70L659.05 619.90L661.10 616.12L663.14 612.35L665.18 608.60L667.23 604.86L669.27 601.14L671.31 597.44L673.36 593.75L675.40 590.08L677.44 586.42L679.49 582.78L681.53 579.16L683.57 575.56L685.62 571.97L687.66 568.40L689.70 564.85L691.75 561.31L693.79 557.79L695.83 554.29L697.88 550.81L699.92 547.34L701.96 543.89L704.01 540.46L706.05 537.05L708.09 533.65L710.14 530.28L712.18 526.92L714.22 523.58L716.27 520.25L718.31 516.95L720.35 513.66L722.40 510.39L724.44 507.14L726.48 503.91L728.53 500.70L730.57 497.50L732.61 494.32L734.66 491.17L736.70 488.03L738.74 484.91L740.79 481.80L742.83 478.72L744.87 475.66L746.92 472.61L748.96 469.58L751.00 466.58L753.05 463.59L755.09 460.62L757.13 457.67L759.18 454.73L761.22 451.82L763.26 448.92L765.31 446.05L767.35 443.19L769.39 440.35L771.44 437.54L773.48 434.74L775.52 431.95L777.57 429.19L779.61 426.45L781.65 423.73L783.70 421.02L785.74 418.33L787.78 415.67L789.83 413.02L791.87 410.39L793.91 407.78L795.96 405.19L798.00 402.61L800.04 400.06L802.09 397.52L804.13 395.01L806.17 392.51L808.22 390.03L810.26 387.57L812.30 385.13L814.35 382.70L816.39 380.30L818.43 377.91L820.47 375.54L822.52 373.19L824.56 370.86L826.60 368.55L828.65 366.25L830.69 363.98L832.73 361.72L834.78 359.48L836.82 357.25L838.86 355.05L840.91 352.86L842.95 350.70L844.99 348.55L847.04 346.41L849.08 344.30L851.12 342.20L853.17 340.12L855.21 338.06L857.25 336.01L859.30 333.98L861.34 331.97L863.38 329.98L865.43 328.01L867.47 326.05L869.51 324.11L871.56 322.18L873.60 320.27L875.64 318.38L877.69 316.51L879.73 314.65L881.77 312.81L883.82 310.98L885.86 309.17L887.90 307.38L889.95 305.61L891.99 303.85L894.03 302.10L896.08 300.38L898.12 298.66L900.16 296.97L902.21 295.29L904.25 293.62L906.29 291.97L908.34 290.34L910.38 288.72L912.42 287.12L914.47 285.53L916.51 283.96L918.55 282.40L920.60 280.86L922.64 279.33L924.68 277.82L926.73 276.32L928.77 274.83L930.81 273.36L932.86 271.91L934.90 270.47L936.94 269.04L938.99 267.63L941.03 266.23L943.07 264.84L945.12 263.47L947.16 262.11L949.20 260.77L951.25 259.44L953.29 258.12L955.33 256.81L957.38 255.52L959.42 254.24L961.46 252.98L963.51 251.73L965.55 250.49L967.59 249.26L969.64 248.05L971.68 246.84L973.72 245.65L975.77 244.48L977.81 243.31L979.85 242.16L981.90 241.02L983.94 239.89L985.98 238.77L988.03 237.67L990.07 236.57L992.11 235.49L994.16 234.42L996.20 233.36L998.24 232.31L1000.29 231.27L1002.33 230.24L1004.37 229.23L1006.42 228.22L1008.46 227.23L1010.50 226.24L1012.55 225.27L1014.59 224.31L1016.63 223.36L1018.68 222.41L1020.72 221.48L1022.76 220.56L1024.81 219.65L1026.85 218.75L1028.89 217.85L1030.94 216.97L1032.98 216.10L1035.02 215.23L1037.07 214.38L1039.11 213.53L1041.15 212.70L1043.20 211.87L1045.24 211.05L1047.28 210.25L1049.33 209.45L1051.37 208.65L1053.41 207.87L1055.45 207.10L1057.50 206.33L1059.54 205.58L1061.58 204.83L1063.63 204.09L1065.67 203.36L1067.71 202.63L1069.76 201.92L1071.80 201.21L1073.84 200.51L1075.89 199.82L1077.93 199.13L1079.97 198.45L1082.02 197.78L1084.06 197.12L1086.10 196.47L1088.15 195.82L1090.19 195.18L1092.23 194.55L1094.28 193.92L1096.32 193.30L1098.36 192.69L1100.41 192.08L1102.45 191.48L1104.49 190.89L1106.54 190.31L1108.58 189.73L1110.62 189.15L1112.67 188.59L1114.71 188.03L1116.75 187.48L1118.80 186.93L1120.84 186.39L1122.88 185.85L1124.93 185.32L1126.97 184.80L1129.01 184.28L1131.06 183.77L1133.10 183.26L1135.14 182.76L1137.19 182.27L1139.23 181.78L1141.27 181.29L1143.32 180.82L1145.36 180.34L1147.40 179.87L1149.45 179.41L1151.49 178.95L1153.53 178.50L1155.58 178.05L1157.62 177.61L1159.66 177.17L1161.71 176.74L1163.75 176.31L1165.79 175.89L1167.84 175.47L1169.88 175.06L1171.92 174.65L1173.97 174.24L1176.01 173.84L1178.05 173.45L1180.10 173.06L1182.14 172.67L1184.18 172.29L1186.23 171.91L1188.27 171.53L1190.31 171.16L1192.36 170.79L1194.40 170.43L1196.44 170.07L1198.49 169.72L1200.53 169.37L1202.57 169.02L1204.62 168.68L1206.66 168.34L1208.70 168.00L1210.75 167.67L1212.79 167.34L1214.83 167.02L1216.88 166.70L1218.92 166.38L1220.96 166.06L1223.01 165.75L1225.05 165.44L1227.09 165.14L1229.14 164.84L1231.18 164.54L1233.22 164.24L1235.27 163.95L1237.31 163.66L1239.35 163.38L1241.40 163.10L1243.44 162.82L1245.48 162.54L1247.53 162.27L1249.57 162.00L1251.61 161.73L1253.66 161.46L1255.70 161.20L1257.74 160.94L1259.79 160.68L1261.83 160.43L1263.87 160.18L1265.92 159.93L1267.96 159.68L1270.00 159.44L1272.05 159.20L1274.09 158.96L1276.13 158.72L1278.17 158.49L1280.22 158.26L1282.26 158.03L1284.30 157.80L1286.35 157.58L1288.39 157.36L1290.43 157.14L1292.48 156.92L1294.52 156.71L1296.56 156.49L1298.61 156.28L1300.65 156.07L1302.69 155.87L1304.74 155.66L1306.78 155.46L1308.82 155.26L1310.87 155.06L1312.91 154.87L1314.95 154.67L1317.00 154.48L1319.04 154.29L1321.08 154.10L1323.13 153.91L1325.17 153.73L1327.21 153.55L1329.26 153.37L1331.30 153.19L1333.34 153.01L1335.39 152.83L1337.43 152.66L1339.47 152.49L1341.52 152.32L1343.56 152.15L1345.60 151.98L1347.65 151.81L1349.69 151.65L1351.73 151.49L1353.78 151.33L1355.82 151.17L1357.86 151.01L1359.91 150.85L1361.95 150.70L1363.99 150.55L1366.04 150.39L1368.08 150.24L1370.12 150.10L1372.17 149.95L1374.21 149.80L1376.25 149.66L1378.30 149.52L1380.34 149.37L1382.38 149.23L1384.43 149.09L1386.47 148.96L1388.51 148.82L1390.56 148.68L1392.60 148.55L1394.64 148.42L1396.69 148.29L1398.73 148.16L1400.77 148.03L1402.82 147.90L1404.86 147.77L1406.90 147.65L1408.95 147.52L1410.99 147.40L1413.03 147.28L1415.08 147.16L1417.12 147.04L1419.16 146.92L1421.21 146.80L1423.25 146.69L1425.29 146.57L1427.34 146.46L1429.38 146.35L1431.42 146.23L1433.47 146.12L1435.51 146.01L1437.55 145.90L1439.60 145.80L1441.64 145.69L1443.68 145.58L1445.73 145.48L1447.77 145.38L1449.81 145.27L1451.86 145.17L1453.90 145.07L1455.94 144.97L1457.99 144.87L1460.03 144.77L1462.07 144.67L1464.12 144.58L1466.16 144.48L1468.20 144.39L1470.25 144.29L1472.29 144.20L1474.33 144.11L1476.38 144.02L1478.42 143.93L1480.46 143.84L1482.51 143.75L1484.55 143.66L1486.59 143.57L1488.64 143.48L1490.68 143.40L1492.72 143.31L1494.77 143.23L1496.81 143.15L1498.85 143.06L1500.90 142.98L1502.94 142.90L1504.98 142.82L1507.02 142.74L1509.07 142.66L1511.11 142.58L1513.15 142.50L1515.20 142.43L1517.24 142.35L1519.28 142.28L1521.33 142.20L1523.37 142.13L1525.41 142.05L1527.46 141.98L1529.50 141.91L1531.54 141.84L1533.59 141.76L1535.63 141.69L1537.67 141.62L1539.72 141.55L1541.76 141.49L1543.80 141.42L1545.85 141.35L1547.89 141.28L1549.93 141.22L1551.98 141.15L1554.02 141.09L1556.06 141.02L1558.11 140.96L1560.15 140.90L1562.19 140.83L1564.24 140.77L1566.28 140.71L1568.32 140.65L1570.37 140.59L1572.41 140.53L1574.45 140.47L1576.50 140.41L1578.54 140.35L1580.58 140.29L1582.63 140.23L1584.67 140.18L1586.71 140.12L1588.76 140.07L1590.80 140.01L1592.84 139.95L1594.89 139.90L1596.93 139.85L1598.97 139.79L1601.02 139.74L1603.06 139.69L1605.10 139.64L1607.15 139.58L1609.19 139.53L1611.23 139.48L1613.28 139.43L1615.32 139.38L1617.36 139.33L1619.41 139.28L1621.45 139.23L1623.49 139.19L1625.54 139.14L1627.58 139.09L1629.62 139.04L1631.67 139.00L1633.71 138.95L1635.75 138.91L1637.80 138.86L1639.84 138.82L1641.88 138.77L1643.93 138.73L1645.97 138.68L1648.01 138.64L1650.06 138.60L1652.10 138.55L1654.14 138.51L1656.19 138.47L1658.23 138.43L1660.27 138.39L1662.32 138.35L1664.36 138.31L1666.40 138.27L1668.45 138.23L1670.49 138.19L1672.53 138.15L1674.58 138.11L1676.62 138.07L1678.66 138.03L1680.71 138.00L1682.75 137.96L1684.79 137.92L1686.84 137.89L1688.88 137.85L1690.92 137.81L1692.97 137.78L1695.01 137.74L1697.05 137.71L1699.10 137.67L1701.14 137.64L1703.18 137.60L1705.23 137.57L1707.27 137.54L1709.31 137.50L1711.36 137.47L1713.40 137.44L1715.44 137.40L1717.49 137.37L1719.53 137.34L1721.57 137.31L1723.62 137.28L1725.66 137.25L1727.70 137.22L1729.75 137.19L1731.79 137.16L1733.83 137.13L1735.88 137.10L1737.92 137.07L1739.96 137.04L1742.00 137.01L1744.05 136.98L1746.09 136.95L1748.13 136.92L1750.18 136.90L1752.22 136.87L1754.26 136.84L1756.31 136.81L1758.35 136.79L1760.39 136.76L1762.44 136.73L1764.48 136.71L1766.52 136.68L1768.57 136.66L1770.61 136.63L1772.65 136.60L1774.70 136.58L1776.74 136.55L1778.78 136.53L1780.83 136.51L1782.87 136.48L1784.91 136.46L1786.96 136.43L1789.00 136.41L1791.04 136.39L1793.09 136.36L1795.13 136.34L1797.17 136.32L1799.22 136.29L1801.26 136.27L1803.30 136.25L1805.35 136.23L1807.39 136.21L1809.43 136.18L1811.48 136.16L1813.52 136.14L1815.56 136.12L1817.61 136.10"/>
<path stroke="#ff00ff" d="M346.43 1245.67L346.94 1242.57L347.45 1239.76L347.96 1237.02L348.47 1234.30L348.98 1231.57L349.49 1228.83L350.00 1226.06L350.52 1223.27L351.03 1220.45L351.54 1217.60L352.05 1214.72L352.56 1211.80L353.07 1208.84L353.58 1205.85L354.09 1202.81L354.60 1199.75L355.11 1196.64L355.62 1193.49L356.13 1190.31L356.65 1187.08L357.16 1183.82L357.67 1180.51L358.18 1177.17L358.69 1173.79L359.20 1170.37L359.71 1166.92L360.22 1163.42L360.73 1159.89L361.24 1156.31L361.75 1152.70L362.26 1149.06L362.77 1145.37L363.29 1141.65L363.80 1137.89L364.31 1134.10L364.82 1130.27L365.33 1126.40L365.84 1122.50L366.35 1118.57L366.86 1114.60L367.37 1110.60L367.88 1106.57L368.39 1102.50L368.90 1098.40L369.42 1094.27L369.93 1090.10L370.44 1085.91L370.95 1081.69L371.46 1077.43L371.97 1073.15L372.48 1068.84L372.99 1064.50L373.50 1060.13L374.01 1055.73L374.52 1051.31L375.03 1046.86L375.55 1042.39L376.06 1037.89L376.57 1033.37L377.08 1028.82L377.59 1024.25L378.10 1019.66L378.61 1015.04L379.12 1010.40L379.63 1005.75L380.14 1001.07L380.65 996.37L381.16 991.65L381.68 986.91L382.19 982.16L382.70 977.39L383.21 972.60L383.72 967.79L384.23 962.97L384.74 958.14L385.25 953.28L385.76 948.42L386.27 943.54L386.78 938.65L387.29 933.75L387.81 928.83L388.32 923.91L388.83 918.97L389.34 914.02L389.85 909.07L390.36 904.10L390.87 899.13L391.38 894.15L391.89 889.17L392.40 884.17L392.91 879.17L393.42 874.17L393.94 869.16L394.45 864.15L394.96 859.13L395.47 854.11L395.98 849.09L396.49 844.07L397.00 839.04L397.51 834.02L398.02 828.99L398.53 823.97L399.04 818.94L399.55 813.92L400.07 808.90L400.58 803.88L401.09 798.87L401.60 793.86L402.11 788.85L402.62 783.85L403.13 778.85L403.64 773.86L404.15 768.87L404.66 763.89L405.17 758.92L405.68 753.95L406.20 749.00L406.71 744.05L407.22 739.11L407.73 734.18L408.24 729.26L408.75 724.35L409.26 719.45L409.77 714.56L410.28 709.69L410.79 704.82L411.30 699.97L411.81 695.13L412.33 690.31L412.84 685.50L413.35 680.70L413.86 675.92L414.37 671.15L414.88 666.40L415.39 661.66L415.90 656.94L416.41 652.23L416.92 647.55L417.43 642.88L417.94 638.22L418.46 633.59L418.97 628.97L419.48 624.37L419.99 619.79L420.50 615.23L421.01 610.69L421.52 606.17L422.03 601.67L422.54 597.19L423.05 592.73L423.56 588.29L424.07 583.87L424.58 579.47L425.10 575.09L425.61 570.74L426.12 566.41L426.63 562.10L427.14 557.81L427.65 553.55L428.16 549.31L428.67 545.09L429.18 540.89L429.69 536.72L430.20 532.57L430.71 528.45L431.23 524.35L431.74 520.28L432.25 516.23L432.76 512.20L433.27 508.20L433.78 504.23L434.29 500.28L434.80 496.35L435.31 492.45L435.82 488.58L436.33 484.73L436.84 480.91L437.36 477.11L437.87 473.34L438.38 469.60L438.89 465.88L439.40 462.19L439.91 458.52L440.42 454.88L440.93 451.27L441.44 447.69L441.95 444.13L442.46 440.59L442.97 437.09L443.49 433.61L444.00 430.16L444.51 426.73L445.02 423.33L445.53 419.96L446.04 416.62L446.55 413.30L447.06 410.01L447.57 406.75L448.08 403.51L448.59 400.30L449.10 397.12L449.62 393.96L450.13 390.83L450.64 387.73L451.15 384.66L451.66 381.61L452.17 378.59L452.68 375.60L453.19 372.63L453.70 369.69L454.21 366.77L454.72 363.89L455.23 361.03L455.75 358.19L456.26 355.39L456.77 352.60L457.28 349.85L457.79 347.12L458.30 344.42L458.81 341.74L459.32 339.09L459.83 336.47L460.34 333.87L460.85 331.30L461.36 328.75L461.88 326.23L462.39 323.73L462.90 321.26L463.41 318.82L463.92 316.40L464.43 314.00L464.94 311.63L465.45 309.29L465.96 306.97L466.47 304.67L466.98 302.40L467.49 300.15L468.01 297.93L468.52 295.73L469.03 293.56L469.54 291.41L470.05 289.28L470.56 287.17L471.07 285.09L471.58 283.04L472.09 281.00L472.60 278.99L473.11 277.00L473.62 275.04L474.14 273.10L474.65 271.18L475.16 269.28L475.67 267.40L476.18 265.55L476.69 263.72L477.20 261.90L477.71 260.12L478.22 258.35L478.73 256.60L479.24 254.88L479.75 253.17L480.26 251.49L480.78 249.82L481.29 248.18L481.80 246.56L482.31 244.96L482.82 243.37L483.33 241.81L483.84 240.27L484.35 238.74L484.86 237.24L485.37 235.75L485.88 234.29L486.39 232.84L486.91 231.41L487.42 230.00L487.93 228.60L488.44 227.23L488.95 225.87L489.46 224.53L489.97 223.21L490.48 221.91L490.99 220.62L491.50 219.35L492.01 218.10L492.52 216.86L493.04 215.65L493.55 214.44L494.06 213.26L494.57 212.09L495.08 210.93L495.59 209.79L496.10 208.67L496.61 207.56L497.12 206.47L497.63 205.39L498.14 204.33L498.65 203.28L499.17 202.25L499.68 201.23L500.19 200.23L500.70 199.24L501.21 198.26L501.72 197.30L502.23 196.35L502.74 195.42L503.25 194.50L503.76 193.59L504.27 192.70L504.78 191.82L505.30 190.95L505.81 190.09L506.32 189.25L506.83 188.41L507.34 187.60L507.85 186.79L508.36 185.99L508.87 185.21L509.38 184.44L509.89 183.68L510.40 182.93L510.91 182.19L511.43 181.46L511.94 180.75L512.45 180.04L512.96 179.35L513.47 178.67L513.98 177.99L514.49 177.33L515.00 176.68L515.51 176.03L516.02 175.40L516.53 174.77L517.04 174.16L517.56 173.56L518.07 172.96L518.58 172.37L519.09 171.80L519.60 171.23L520.11 170.67L520.62 170.12L521.13 169.58L521.64 169.04L522.15 168.52L522.66 168.00L523.17 167.49L523.69 166.99L524.20 166.50L524.71 166.02L525.22 165.54L525.73 165.07L526.24 164.61L526.75 164.15L527.26 163.70L527.77 163.26L528.28 162.83L528.79 162.40L529.30 161.98L529.82 161.57L530.33 161.16L530.84 160.76L531.35 160.37L531.86 159.98L532.37 159.60L532.88 159.23L533.39 158.86L533.90 158.50L534.41 158.14L534.92 157.79L535.43 157.44L535.94 157.11L536.46 156.77L536.97 156.44L537.48 156.12L537.99 155.80L538.50 155.49L539.01 155.18L539.52 154.88L540.03 154.58L540.54 154.29L541.05 154.00L541.56 153.72L542.07 153.44L542.59 153.16L543.10 152.89L543.61 152.63L544.12 152.37L544.63 152.11L545.14 151.86L545.65 151.61L546.16 151.36L546.67 151.12L547.18 150.89L547.69 150.66L548.20 150.43L548.72 150.20L549.23 149.98L549.74 149.76L550.25 149.55L550.76 149.34L551.27 149.13L551.78 148.93L552.29 148.73L552.80 148.53L553.31 148.34L553.82 148.15L554.33 147.96L554.85 147.77L555.36 147.59L555.87 147.41L556.38 147.24L556.89 147.07L557.40 146.89L557.91 146.73L558.42 146.56L558.93 146.40L559.44 146.24L559.95 146.09L560.46 145.93L560.98 145.78L561.49 145.63L562.00 145.48L562.51 145.34L563.02 145.20L563.53 145.06L564.04 144.92L564.55 144.78L565.06 144.65L565.57 144.52L566.08 144.39L566.59 144.26L567.11 144.14L567.62 144.01L568.13 143.89L568.64 143.77L569.15 143.66L569.66 143.54L570.17 143.43L570.68 143.31L571.19 143.20L571.70 143.10L572.21 142.99L572.72 142.88L573.24 142.78L573.75 142.68L574.26 142.58L574.77 142.48L575.28 142.38L575.79 142.28L576.30 142.19L576.81 142.10L577.32 142.01L577.83 141.92L578.34 141.83L578.85 141.74L579.37 141.65L579.88 141.57L580.39 141.48L580.90 141.40L581.41 141.32L581.92 141.24L582.43 141.16L582.94 141.08L583.45 141.01L583.96 140.93L584.47 140.85L584.98 140.78L585.50 140.71L586.01 140.64L586.52 140.57L587.03 140.50L587.54 140.43L588.05 140.36L588.56 140.29L589.07 140.23L589.58 140.16L590.09 140.10L590.60 140.04L591.11 139.98L591.62 139.91L593.67 139.68L595.71 139.45L597.75 139.24L599.80 139.04L601.84 138.84L603.88 138.66L605.93 138.49L607.97 138.32L610.01 138.16L612.06 138.01L614.10 137.86L616.14 137.72L618.19 137.59L620.23 137.46L622.27 137.34L624.32 137.22L626.36 137.11L628.40 137.00L630.45 136.89L632.49 136.79L634.53 136.70L636.58 136.60L638.62 136.51L640.66 136.42L642.71 136.34L644.75 136.26L646.79 136.18L648.84 136.10L650.88 136.03L652.92 135.96L654.97 135.89L657.01 135.82L659.05 135.75L661.10 135.69L663.14 135.63L665.18 135.57L667.23 135.51L669.27 135.46L671.31 135.40L673.36 135.35L675.40 135.30L677.44 135.25L679.49 135.20L681.53 135.15L683.57 135.11L685.62 135.06L687.66 135.02L689.70 134.98L691.75 134.94L693.79 134.90L695.83 134.86L697.88 134.82L699.92 134.78L701.96 134.75L704.01 134.71L706.05 134.68L708.09 134.65L710.14 134.62L712.18 134.59L714.22 134.56L716.27 134.53L718.31 134.50L720.35 134.47L722.40 134.44L724.44 134.42L726.48 134.39L728.53 134.37L730.57 134.34L732.61 134.32L734.66 134.30L736.70 134.28L738.74 134.25L740.79 134.23L742.83 134.21L744.87 134.19L746.92 134.17L748.96 134.15L751.00 134.14L753.05 134.12L755.09 134.10L757.13 134.08L759.18 134.07L761.22 134.05L763.26 134.04L765.31 134.02L767.35 134.01L769.39 133.99L771.44 133.98L773.48 133.96L775.52 133.95L777.57 133.94L779.61 133.93L781.65 133.91L783.70 133.90L785.74 133.89L787.78 133.88L789.83 133.87L791.87 133.86L793.91 133.85L795.96 133.84L798.00 133.83L800.04 133.82L802.09 133.81L804.13 133.80L806.17 133.79L808.22 133.78L810.26 133.77L812.30 133.76L814.35 133.76L816.39 133.75L818.43 133.74L820.47 133.73L822.52 133.73L824.56 133.72L826.60 133.71L828.65 133.71L830.69 133.70L832.73 133.69L834.78 133.69L836.82 133.68L838.86 133.68L840.91 133.67L842.95 133.67L844.99 133.66L847.04 133.65L849.08 133.65L851.12 133.64L853.17 133.64L855.21 133.64L857.25 133.63L859.30 133.63L861.34 133.62L863.38 133.62L865.43 133.61L867.47 133.61L869.51 133.61L871.56 133.60L873.60 133.60L875.64 133.59L877.69 133.59L879.73 133.59L881.77 133.58L883.82 133.58L885.86 133.58L887.90 133.58L889.95 133.57L891.99 133.57L894.03 133.57L896.08 133.56L898.12 133.56L900.16 133.56L902.21 133.56L904.25 133.55L906.29 133.55L908.34 133.55L910.38 133.55L912.42 133.54L914.47 133.54L916.51 133.54L918.55 133.54L920.60 133.54L922.64 133.53L924.68 133.53L926.73 133.53L928.77 133.53L930.81 133.53L932.86 133.52L934.90 133.52L936.94 133.52L938.99 133.52L941.03 133.52L943.07 133.52L945.12 133.52L947.16 133.51L949.20 133.51L951.25 133.51L953.29 133.51L955.33 133.51L957.38 133.51L959.42 133.51L961.46 133.51L963.51 133.50L965.55 133.50L967.59 133.50L969.64 133.50L971.68 133.50L973.72 133.50L975.77 133.50L977.81 133.50L979.85 133.50L981.90 133.49L983.94 133.49L985.98 133.49L988.03 133.49L990.07 133.49L992.11 133.49L994.16 133.49L996.20 133.49L998.24 133.49L1000.29 133.49L1002.33 133.49L1004.37 133.49L1006.42 133.49L1008.46 133.48L1010.50 133.48L1012.55 133.48L1014.59 133.48L1016.63 133.48L1018.68 133.48L1020.72 133.48L1022.76 133.48L1024.81 133.48L1026.85 133.48L1028.89 133.48L1030.94 133.48L1032.98 133.48L1035.02 133.48L1037.07 133.48L1039.11 133.48L1041.15 133.48L1043.20 133.48L1045.24 133.48L1047.28 133.48L1049.33 133.47L1051.37 133.47L1053.41 133.47L1055.45 133.47L1057.50 133.47L1059.54 133.47L1061.58 133.47L1063.63 133.47L1065.67 133.47L1067.71 133.47L1069.76 133.47L1071.80 133.47L1073.84 133.47L1075.89 133.47L1077.93 133.47L1079.97 133.47L1082.02 133.47L1084.06 133.47L1086.10 133.47L1088.15 133.47L1090.19 133.47L1092.23 133.47L1094.28 133.47L1096.32 133.47L1098.36 133.47L1100.41 133.47L1102.45 133.47L1104.49 133.47L1106.54 133.47L1108.58 133.47L1110.62 133.47L1112.67 133.47L1114.71 133.47L1116.75 133.47L1118.80 133.47L1120.84 133.47L1122.88 133.47L1124.93 133.47L1126.97 133.47L1129.01 133.47L1131.06 133.46L1133.10 133.46L1135.14 133.46L1137.19 133.46L1139.23 133.46L1141.27 133.46L1143.32 133.46L1145.36 133.46L1147.40 133.46L1149.45 133.46L1151.49 133.46L1153.53 133.46L1155.58 133.46L1157.62 133.46L1159.66 133.46L1161.71 133.46L1163.75 133.46L1165.79 133.46L1167.84 133.46L1169.88 133.46L1171.92 133.46L1173.97 133.46L1176.01 133.46L1178.05 133.46L1180.10 133.46L1182.14 133.46L1184.18 133.46L1186.23 133.46L1188.27 133.46L1190.31 133.46L1192.36 133.46L1194.40 133.46L1196.44 133.46L1198.49 133.46L1200.53 133.46L1202.57 133.46L1204.62 133.46L1206.66 133.46L1208.70 133.46L1210.75 133.46L1212.79 133.46L1214.83 133.46L1216.88 133.46L1218.92 133.46L1220.96 133.46L1223.01 133.46L1225.05 133.46L1227.09 133.46L1229.14 133.46L1231.18 133.46L1233.22 133.46L1235.27 133.46L1237.31 133.46L1239.35 133.46L1241.40 133.46L1243.44 133.46L1245.48 133.46L1247.53 133.46L1249.57 133.46L1251.61 133.46L1253.66 133.46L1255.70 133.46L1257.74 133.46L1259.79 133.46L1261.83 133.46L1263.87 133.46L1265.92 133.46L1267.96 133.46L1270.00 133.46L1272.05 133.46L1274.09 133.46L1276.13 133.46L1278.17 133.46L1280.22 133.46L1282.26 133.46L1284.30 133.46L1286.35 133.46L1288.39 133.46L1290.43 133.46L1292.48 133.46L1294.52 133.46L1296.56 133.46L1298.61 133.46L1300.65 133.46L1302.69 133.46L1304.74 133.46L1306.78 133.46L1308.82 133.46L1310.87 133.46L1312.91 133.46L1314.95 133.46L1317.00 133.46L1319.04 133.46L1321.08 133.46L1323.13 133.46L1325.17 133.46L1327.21 133.46L1329.26 133.46L1331.30 133.46L1333.34 133.46L1335.39 133.46L1337.43 133.46L1339.47 133.46L1341.52 133.46L1343.56 133.46L1345.60 133.46L1347.65 133.46L1349.69 133.46L1351.73 133.46L1353.78 133.46L1355.82 133.46L1357.86 133.46L1359.91 133.46L1361.95 133.46L1363.99 133.46L1366.04 133.46L1368.08 133.46L1370.12 133.46L1372.17 133.46L1374.21 133.46L1376.25 133.46L1378.30 133.46L1380.34 133.46L1382.38 133.46L1384.43 133.46L1386.47 133.46L1388.51 133.46L1390.56 133.46L1392.60 133.46L1394.64 133.46L1396.69 133.46L1398.73 133.46L1400.77 133.46L1402.82 133.46L1404.86 133.46L1406.90 133.46L1408.95 133.46L1410.99 133.46L1413.03 133.46L1415.08 133.46L1417.12 133.46L1419.16 133.46L1421.21 133.46L1423.25 133.46L1425.29 133.46L1427.34 133.46L1429.38 133.46L1431.42 133.46L1433.47 133.46L1435.51 133.46L1437.55 133.46L1439.60 133.46L1441.64 133.46L1443.68 133.46L1445.73 133.46L1447.77 133.46L1449.81 133.46L1451.86 133.46L1453.90 133.46L1455.94 133.46L1457.99 133.46L1460.03 133.46L1462.07 133.46L1464.12 133.46L1466.16 133.46L1468.20 133.46L1470.25 133.46L1472.29 133.46L1474.33 133.46L1476.38 133.46L1478.42 133.46L1480.46 133.46L1482.51 133.46L1484.55 133.46L1486.59 133.46L1488.64 133.46L1490.68 133.46L1492.72 133.46L1494.77 133.46L1496.81 133.46L1498.85 133.46L1500.90 133.46L1502.94 133.46L1504.98 133.46L1507.02 133.46L1509.07 133.46L1511.11 133.46L1513.15 133.46L1515.20 133.46L1517.24 133.46L1519.28 133.46L1521.33 133.46L1523.37 133.46L1525.41 133.46L1527.46 133.46L1529.50 133.46L1531.54 133.46L1533.59 133.46L1535.63 133.46L1537.67 133.46L1539.72 133.46L1541.76 133.46L1543.80 133.46L1545.85 133.46L1547.89 133.46L1549.93 133.46L1551.98 133.46L1554.02 133.46L1556.06 133.46L1558.11 133.46L1560.15 133.46L1562.19 133.46L1564.24 133.46L1566.28 133.46L1568.32 133.46L1570.37 133.46L1572.41 133.46L1574.45 133.46L1576.50 133.46L1578.54 133.46L1580.58 133.46L1582.63 133.46L1584.67 133.46L1586.71 133.46L1588.76 133.46L1590.80 133.46L1592.84 133.46L1594.89 133.46L1596.93 133.46L1598.97 133.46L1601.02 133.46L1603.06 133.46L1605.10 133.46L1607.15 133.46L1609.19 133.46L1611.23 133.46L1613.28 133.46L1615.32 133.46L1617.36 133.46L1619.41 133.46L1621.45 133.46L1623.49 133.46L1625.54 133.46L1627.58 133.46L1629.62 133.46L1631.67 133.46L1633.71 133.46L1635.75 133.46L1637.80 133.46L1639.84 133.46L1641.88 133.46L1643.93 133.46L1645.97 133.46L1648.01 133.46L1650.06 133.46L1652.10 133.46L1654.14 133.46L1656.19 133.46L1658.23 133.46L1660.27 133.46L1662.32 133.46L1664.36 133.46L1666.40 133.46L1668.45 133.46L1670.49 133.46L1672.53 133.46L1674.58 133.46L1676.62 133.46L1678.66 133.46L1680.71 133.46L1682.75 133.46L1684.79 133.46L1686.84 133.46L1688.88 133.46L1690.92 133.46L1692.97 133.46L1695.01 133.46L1697.05 133.46L1699.10 133.46L1701.14 133.46L1703.18 133.46L1705.23 133.46L1707.27 133.46L1709.31 133.46L1711.36 133.46L1713.40 133.46L1715.44 133.46L1717.49 133.46L1719.53 133.46L1721.57 133.46L1723.62 133.46L1725.66 133.46L1727.70 133.46L1729.75 133.46L1731.79 133.46L1733.83 133.46L1735.88 133.46L1737.92 133.46L1739.96 133.46L1742.00 133.46L1744.05 133.46L1746.09 133.46L1748.13 133.46L1750.18 133.46L1752.22 133.46L1754.26 133.46L1756.31 133.46L1758.35 133.46L1760.39 133.46L1762.44 133.46L1764.48 133.46L1766.52 133.46L1768.57 133.46L1770.61 133.46L1772.65 133.46L1774.70 133.46L1776.74 133.46L1778.78 133.46L1780.83 133.46L1782.87 133.46L1784.91 133.46L1786.96 133.46L1789.00 133.46L1791.04 133.46L1793.09 133.46L1795.13 133.46L1797.17 133.46L1799.22 133.46L1801.26 133.46L1803.30 133.46L1805.35 133.46L1807.39 133.46L1809.43 133.46L1811.48 133.46L1813.52 133.46L1815.56 133.46L1817.61 133.46"/>
<path stroke="#000000" d="M346.43 1240.66L346.94 1228.65L347.45 1215.44L347.96 1201.85L348.47 1188.13L348.98 1174.40L349.49 1160.75L350.00 1147.22L350.52 1133.87L351.03 1120.71L351.54 1107.78L352.05 1095.08L352.56 1082.63L353.07 1070.44L353.58 1058.51L354.09 1046.85L354.60 1035.45L355.11 1024.33L355.62 1013.47L356.13 1002.88L356.65 992.56L357.16 982.50L357.67 972.69L358.18 963.14L358.69 953.84L359.20 944.79L359.71 935.98L360.22 927.40L360.73 919.04L361.24 910.92L361.75 903.01L362.26 895.31L362.77 887.82L363.29 880.53L363.80 873.43L364.31 866.53L364.82 859.81L365.33 853.26L365.84 846.89L366.35 840.69L366.86 834.65L367.37 828.77L367.88 823.03L368.39 817.45L368.90 812.01L369.42 806.70L369.93 801.53L370.44 796.49L370.95 791.57L371.46 786.77L371.97 782.08L372.48 777.51L372.99 773.04L373.50 768.68L374.01 764.42L374.52 760.26L375.03 756.18L375.55 752.20L376.06 748.30L376.57 744.49L377.08 740.76L377.59 737.10L378.10 733.52L378.61 730.01L379.12 726.57L379.63 723.20L380.14 719.89L380.65 716.65L381.16 713.46L381.68 710.33L382.19 707.26L382.70 704.23L383.21 701.26L383.72 698.34L384.23 695.47L384.74 692.65L385.25 689.87L385.76 687.13L386.27 684.43L386.78 681.77L387.29 679.15L387.81 676.57L388.32 674.02L388.83 671.51L389.34 669.03L389.85 666.58L390.36 664.17L390.87 661.78L391.38 659.42L391.89 657.09L392.40 654.79L392.91 652.51L393.42 650.26L393.94 648.03L394.45 645.83L394.96 643.65L395.47 641.49L395.98 639.35L396.49 637.24L397.00 635.14L397.51 633.06L398.02 631.01L398.53 628.97L399.04 626.94L399.55 624.94L400.07 622.95L400.58 620.98L401.09 619.02L401.60 617.08L402.11 615.16L402.62 613.25L403.13 611.35L403.64 609.47L404.15 607.60L404.66 605.74L405.17 603.90L405.68 602.07L406.20 600.25L406.71 598.44L407.22 596.65L407.73 594.86L408.24 593.09L408.75 591.33L409.26 589.58L409.77 587.84L410.28 586.11L410.79 584.39L411.30 582.67L411.81 580.97L412.33 579.28L412.84 577.60L413.35 575.93L413.86 574.26L414.37 572.61L414.88 570.96L415.39 569.32L415.90 567.70L416.41 566.07L416.92 564.46L417.43 562.86L417.94 561.26L418.46 559.67L418.97 558.09L419.48 556.51L419.99 554.95L420.50 553.39L421.01 551.84L421.52 550.29L422.03 548.76L422.54 547.23L423.05 545.70L423.56 544.19L424.07 542.68L424.58 541.17L425.10 539.68L425.61 538.19L426.12 536.70L426.63 535.23L427.14 533.76L427.65 532.29L428.16 530.84L428.67 529.39L429.18 527.94L429.69 526.51L430.20 525.08L430.71 523.65L431.23 522.24L431.74 520.83L432.25 519.43L432.76 518.03L433.27 516.65L433.78 515.27L434.29 513.89L434.80 512.52L435.31 511.16L435.82 509.81L436.33 508.46L436.84 507.11L437.36 505.78L437.87 504.45L438.38 503.12L438.89 501.80L439.40 500.49L439.91 499.18L440.42 497.88L440.93 496.59L441.44 495.30L441.95 494.02L442.46 492.74L442.97 491.47L443.49 490.20L444.00 488.94L444.51 487.68L445.02 486.43L445.53 485.19L446.04 483.95L446.55 482.72L447.06 481.49L447.57 480.26L448.08 479.04L448.59 477.83L449.10 476.62L449.62 475.42L450.13 474.22L450.64 473.03L451.15 471.84L451.66 470.65L452.17 469.47L452.68 468.30L453.19 467.13L453.70 465.96L454.21 464.80L454.72 463.65L455.23 462.49L455.75 461.35L456.26 460.20L456.77 459.07L457.28 457.93L457.79 456.80L458.30 455.68L458.81 454.55L459.32 453.44L459.83 452.32L460.34 451.21L460.85 450.11L461.36 449.01L461.88 447.91L462.39 446.82L462.90 445.73L463.41 444.64L463.92 443.56L464.43 442.48L464.94 441.41L465.45 440.33L465.96 439.27L466.47 438.20L466.98 437.14L467.49 436.09L468.01 435.03L468.52 433.98L469.03 432.94L469.54 431.89L470.05 430.85L470.56 429.82L471.07 428.79L471.58 427.76L472.09 426.74L472.60 425.72L473.11 424.71L473.62 423.70L474.14 422.69L474.65 421.69L475.16 420.69L475.67 419.69L476.18 418.70L476.69 417.72L477.20 416.73L477.71 415.75L478.22 414.78L478.73 413.81L479.24 412.84L479.75 411.87L480.26 410.91L480.78 409.96L481.29 409.00L481.80 408.05L482.31 407.11L482.82 406.16L483.33 405.22L483.84 404.29L484.35 403.36L484.86 402.43L485.37 401.50L485.88 400.58L486.39 399.67L486.91 398.75L487.42 397.84L487.93 396.93L488.44 396.03L488.95 395.13L489.46 394.23L489.97 393.34L490.48 392.45L490.99 391.56L491.50 390.68L492.01 389.80L492.52 388.92L493.04 388.04L493.55 387.17L494.06 386.31L494.57 385.44L495.08 384.58L495.59 383.72L496.10 382.87L496.61 382.01L497.12 381.17L497.63 380.32L498.14 379.48L498.65 378.64L499.17 377.80L499.68 376.97L500.19 376.14L500.70 375.31L501.21 374.49L501.72 373.67L502.23 372.85L502.74 372.03L503.25 371.22L503.76 370.41L504.27 369.60L504.78 368.80L505.30 368.00L505.81 367.20L506.32 366.40L506.83 365.61L507.34 364.82L507.85 364.03L508.36 363.25L508.87 362.47L509.38 361.69L509.89 360.91L510.40 360.14L510.91 359.37L511.43 358.60L511.94 357.83L512.45 357.07L512.96 356.31L513.47 355.55L513.98 354.80L514.49 354.05L515.00 353.30L515.51 352.55L516.02 351.80L516.53 351.06L517.04 350.32L517.56 349.58L518.07 348.85L518.58 348.12L519.09 347.39L519.60 346.66L520.11 345.93L520.62 345.21L521.13 344.49L521.64 343.77L522.15 343.06L522.66 342.34L523.17 341.63L523.69 340.92L524.20 340.22L524.71 339.51L525.22 338.81L525.73 338.11L526.24 337.41L526.75 336.72L527.26 336.03L527.77 335.33L528.28 334.65L528.79 333.96L529.30 333.28L529.82 332.59L530.33 331.91L530.84 331.24L531.35 330.56L531.86 329.89L532.37 329.21L532.88 328.54L533.39 327.88L533.90 327.21L534.41 326.55L534.92 325.89L535.43 325.23L535.94 324.57L536.46 323.91L536.97 323.26L537.48 322.61L537.99 321.96L538.50 321.31L539.01 320.67L539.52 320.02L540.03 319.38L540.54 318.74L541.05 318.10L541.56 317.47L542.07 316.83L542.59 316.20L543.10 315.57L543.61 314.94L544.12 314.31L544.63 313.69L545.14 313.06L545.65 312.44L546.16 311.82L546.67 311.20L547.18 310.58L547.69 309.97L548.20 309.35L548.72 308.74L549.23 308.13L549.74 307.52L550.25 306.92L550.76 306.31L551.27 305.71L551.78 305.11L552.29 304.51L552.80 303.91L553.31 303.31L553.82 302.72L554.33 302.13L554.85 301.53L555.36 300.94L555.87 300.36L556.38 299.77L556.89 299.19L557.40 298.60L557.91 298.02L558.42 297.44L558.93 296.87L559.44 296.29L559.95 295.72L560.46 295.14L560.98 294.57L561.49 294.00L562.00 293.44L562.51 292.87L563.02 292.31L563.53 291.74L564.04 291.18L564.55 290.62L565.06 290.07L565.57 289.51L566.08 288.96L566.59 288.41L567.11 287.86L567.62 287.31L568.13 286.76L568.64 286.21L569.15 285.67L569.66 285.13L570.17 284.59L570.68 284.05L571.19 283.51L571.70 282.98L572.21 282.44L572.72 281.91L573.24 281.38L573.75 280.85L574.26 280.33L574.77 279.80L575.28 279.28L575.79 278.75L576.30 278.23L576.81 277.72L577.32 277.20L577.83 276.68L578.34 276.17L578.85 275.66L579.37 275.15L579.88 274.64L580.39 274.13L580.90 273.63L581.41 273.12L581.92 272.62L582.43 272.12L582.94 271.62L583.45 271.13L583.96 270.63L584.47 270.14L584.98 269.65L585.50 269.16L586.01 268.67L586.52 268.18L587.03 267.70L587.54 267.21L588.05 266.73L588.56 266.25L589.07 265.77L589.58 265.30L590.09 264.82L590.60 264.35L591.11 263.88L591.62 263.41L593.67 261.54L595.71 259.71L597.75 257.90L599.80 256.12L601.84 254.36L603.88 252.64L605.93 250.94L607.97 249.26L610.01 247.62L612.06 246.00L614.10 244.41L616.14 242.85L618.19 241.31L620.23 239.79L622.27 238.30L624.32 236.82L626.36 235.37L628.40 233.94L630.45 232.52L632.49 231.13L634.53 229.75L636.58 228.40L638.62 227.06L640.66 225.74L642.71 224.44L644.75 223.15L646.79 221.89L648.84 220.64L650.88 219.40L652.92 218.19L654.97 216.98L657.01 215.80L659.05 214.63L661.10 213.47L663.14 212.33L665.18 211.21L667.23 210.10L669.27 209.00L671.31 207.91L673.36 206.84L675.40 205.79L677.44 204.74L679.49 203.71L681.53 202.68L683.57 201.66L685.62 200.64L687.66 199.64L689.70 198.64L691.75 197.65L693.79 196.67L695.83 195.69L697.88 194.73L699.92 193.77L701.96 192.83L704.01 191.89L706.05 190.96L708.09 190.04L710.14 189.13L712.18 188.23L714.22 187.34L716.27 186.46L718.31 185.60L720.35 184.74L722.40 183.90L724.44 183.06L726.48 182.24L728.53 181.43L730.57 180.63L732.61 179.85L734.66 179.08L736.70 178.32L738.74 177.57L740.79 176.84L742.83 176.13L744.87 175.42L746.92 174.73L748.96 174.06L751.00 173.40L753.05 172.76L755.09 172.13L757.13 171.51L759.18 170.90L761.22 170.30L763.26 169.71L765.31 169.12L767.35 168.54L769.39 167.97L771.44 167.41L773.48 166.86L775.52 166.31L777.57 165.77L779.61 165.23L781.65 164.70L783.70 164.18L785.74 163.67L787.78 163.16L789.83 162.66L791.87 162.17L793.91 161.68L795.96 161.20L798.00 160.72L800.04 160.25L802.09 159.79L804.13 159.33L806.17 158.88L808.22 158.44L810.26 158.00L812.30 157.56L814.35 157.13L816.39 156.71L818.43 156.29L820.47 155.88L822.52 155.47L824.56 155.07L826.60 154.68L828.65 154.29L830.69 153.90L832.73 153.52L834.78 153.14L836.82 152.77L838.86 152.40L840.91 152.04L842.95 151.68L844.99 151.33L847.04 150.98L849.08 150.64L851.12 150.30L853.17 149.96L855.21 149.63L857.25 149.30L859.30 148.98L861.34 148.66L863.38 148.35L865.43 148.04L867.47 147.73L869.51 147.43L871.56 147.13L873.60 146.83L875.64 146.54L877.69 146.25L879.73 145.97L881.77 145.69L883.82 145.41L885.86 145.14L887.90 144.87L889.95 144.60L891.99 144.34L894.03 144.08L896.08 143.82L898.12 143.57L900.16 143.32L902.21 143.07L904.25 142.83L906.29 142.59L908.34 142.35L910.38 142.12L912.42 141.88L914.47 141.66L916.51 141.43L918.55 141.21L920.60 140.99L922.64 140.77L924.68 140.56L926.73 140.34L928.77 140.13L930.81 139.93L932.86 139.72L934.90 139.52L936.94 139.32L938.99 139.13L941.03 138.93L943.07 138.74L945.12 138.55L947.16 138.37L949.20 138.18L951.25 138.00L953.29 137.82L955.33 137.64L957.38 137.47L959.42 137.29L961.46 137.12L963.51 136.95L965.55 136.79L967.59 136.62L969.64 136.46L971.68 136.30L973.72 136.14L975.77 135.99L977.81 135.83L979.85 135.68L981.90 135.53L983.94 135.38L985.98 135.23L988.03 135.09L990.07 134.94L992.11 134.80L994.16 134.66L996.20 134.53L998.24 134.39L1000.29 134.26L1002.33 134.12L1004.37 133.99L1006.42 133.86L1008.46 133.73L1010.50 133.61L1012.55 133.48L1014.59 133.36L1016.63 133.24L1018.68 133.12L1020.72 133.00L1022.76 132.88L1024.81 132.77L1026.85 132.65L1028.89 132.54L1030.94 132.43L1032.98 132.32L1035.02 132.21L1037.07 132.10L1039.11 132.00L1041.15 131.89L1043.20 131.79L1045.24 131.69L1047.28 131.59L1049.33 131.49L1051.37 131.39L1053.41 131.29L1055.45 131.19L1057.50 131.10L1059.54 131.01L1061.58 130.91L1063.63 130.82L1065.67 130.73L1067.71 130.64L1069.76 130.56L1071.80 130.47L1073.84 130.38L1075.89 130.30L1077.93 130.22L1079.97 130.13L1082.02 130.05L1084.06 129.97L1086.10 129.89L1088.15 129.81L1090.19 129.73L1092.23 129.66L1094.28 129.58L1096.32 129.51L1098.36 129.43L1100.41 129.36L1102.45 129.29L1104.49 129.22L1106.54 129.15L1108.58 129.08L1110.62 129.01L1112.67 128.94L1114.71 128.88L1116.75 128.81L1118.80 128.74L1120.84 128.68L1122.88 128.62L1124.93 128.55L1126.97 128.49L1129.01 128.43L1131.06 128.37L1133.10 128.31L1135.14 128.25L1137.19 128.19L1139.23 128.13L1141.27 128.08L1143.32 128.02L1145.36 127.97L1147.40 127.91L1149.45 127.86L1151.49 127.80L1153.53 127.75L1155.58 127.70L1157.62 127.65L1159.66 127.60L1161.71 127.55L1163.75 127.50L1165.79 127.45L1167.84 127.40L1169.88 127.35L1171.92 127.30L1173.97 127.26L1176.01 127.21L1178.05 127.17L1180.10 127.12L1182.14 127.08L1184.18 127.03L1186.23 126.99L1188.27 126.95L1190.31 126.90L1192.36 126.86L1194.40 126.82L1196.44 126.78L1198.49 126.74L1200.53 126.70L1202.57 126.66L1204.62 126.62L1206.66 126.58L1208.70 126.55L1210.75 126.51L1212.79 126.47L1214.83 126.43L1216.88 126.40L1218.92 126.36L1220.96 126.33L1223.01 126.29L1225.05 126.26L1227.09 126.22L1229.14 126.19L1231.18 126.16L1233.22 126.13L1235.27 126.09L1237.31 126.06L1239.35 126.03L1241.40 126.00L1243.44 125.97L1245.48 125.94L1247.53 125.91L1249.57 125.88L1251.61 125.85L1253.66 125.82L1255.70 125.79L1257.74 125.76L1259.79 125.73L1261.83 125.71L1263.87 125.68L1265.92 125.65L1267.96 125.63L1270.00 125.60L1272.05 125.57L1274.09 125.55L1276.13 125.52L1278.17 125.50L1280.22 125.47L1282.26 125.45L1284.30 125.43L1286.35 125.40L1288.39 125.38L1290.43 125.36L1292.48 125.33L1294.52 125.31L1296.56 125.29L1298.61 125.27L1300.65 125.24L1302.69 125.22L1304.74 125.20L1306.78 125.18L1308.82 125.16L1310.87 125.14L1312.91 125.12L1314.95 125.10L1317.00 125.08L1319.04 125.06L1321.08 125.04L1323.13 125.02L1325.17 125.00L1327.21 124.98L1329.26 124.96L1331.30 124.95L1333.34 124.93L1335.39 124.91L1337.43 124.89L1339.47 124.88L1341.52 124.86L1343.56 124.84L1345.60 124.82L1347.65 124.81L1349.69 124.79L1351.73 124.78L1353.78 124.76L1355.82 124.74L1357.86 124.73L1359.91 124.71L1361.95 124.70L1363.99 124.68L1366.04 124.67L1368.08 124.65L1370.12 124.64L1372.17 124.62L1374.21 124.61L1376.25 124.60L1378.30 124.58L1380.34 124.57L1382.38 124.56L1384.43 124.54L1386.47 124.53L1388.51 124.52L1390.56 124.50L1392.60 124.49L1394.64 124.48L1396.69 124.47L1398.73 124.45L1400.77 124.44L1402.82 124.43L1404.86 124.42L1406.90 124.41L1408.95 124.40L1410.99 124.38L1413.03 124.37L1415.08 124.36L1417.12 124.35L1419.16 124.34L1421.21 124.33L1423.25 124.32L1425.29 124.31L1427.34 124.30L1429.38 124.29L1431.42 124.28L1433.47 124.27L1435.51 124.26L1437.55 124.25L1439.60 124.24L1441.64 124.23L1443.68 124.22L1445.73 124.21L1447.77 124.20L1449.81 124.19L1451.86 124.18L1453.90 124.18L1455.94 124.17L1457.99 124.16L1460.03 124.15L1462.07 124.14L1464.12 124.13L1466.16 124.12L1468.20 124.12L1470.25 124.11L1472.29 124.10L1474.33 124.09L1476.38 124.09L1478.42 124.08L1480.46 124.07L1482.51 124.06L1484.55 124.06L1486.59 124.05L1488.64 124.04L1490.68 124.03L1492.72 124.03L1494.77 124.02L1496.81 124.01L1498.85 124.01L1500.90 124.00L1502.94 123.99L1504.98 123.99L1507.02 123.98L1509.07 123.97L1511.11 123.97L1513.15 123.96L1515.20 123.96L1517.24 123.95L1519.28 123.94L1521.33 123.94L1523.37 123.93L1525.41 123.93L1527.46 123.92L1529.50 123.91L1531.54 123.91L1533.59 123.90L1535.63 123.90L1537.67 123.89L1539.72 123.89L1541.76 123.88L1543.80 123.88L1545.85 123.87L1547.89 123.87L1549.93 123.86L1551.98 123.86L1554.02 123.85L1556.06 123.85L1558.11 123.84L1560.15 123.84L1562.19 123.83L1564.24 123.83L1566.28 123.82L1568.32 123.82L1570.37 123.81L1572.41 123.81L1574.45 123.81L1576.50 123.80L1578.54 123.80L1580.58 123.79L1582.63 123.79L1584.67 123.78L1586.71 123.78L1588.76 123.78L1590.80 123.77L1592.84 123.77L1594.89 123.77L1596.93 123.76L1598.97 123.76L1601.02 123.75L1603.06 123.75L1605.10 123.75L1607.15 123.74L1609.19 123.74L1611.23 123.74L1613.28 123.73L1615.32 123.73L1617.36 123.73L1619.41 123.72L1621.45 123.72L1623.49 123.72L1625.54 123.71L1627.58 123.71L1629.62 123.71L1631.67 123.70L1633.71 123.70L1635.75 123.70L1637.80 123.69L1639.84 123.69L1641.88 123.69L1643.93 123.69L1645.97 123.68L1648.01 123.68L1650.06 123.68L1652.10 123.67L1654.14 123.67L1656.19 123.67L1658.23 123.67L1660.27 123.66L1662.32 123.66L1664.36 123.66L1666.40 123.66L1668.45 123.65L1670.49 123.65L1672.53 123.65L1674.58 123.65L1676.62 123.64L1678.66 123.64L1680.71 123.64L1682.75 123.64L1684.79 123.63L1686.84 123.63L1688.88 123.63L1690.92 123.63L1692.97 123.63L1695.01 123.62L1697.05 123.62L1699.10 123.62L1701.14 123.62L1703.18 123.62L1705.23 123.61L1707.27 123.61L1709.31 123.61L1711.36 123.61L1713.40 123.61L1715.44 123.60L1717.49 123.60L1719.53 123.60L1721.57 123.60L1723.62 123.60L1725.66 123.59L1727.70 123.59L1729.75 123.59L1731.79 123.59L1733.83 123.59L1735.88 123.59L1737.92 123.58L1739.96 123.58L1742.00 123.58L1744.05 123.58L1746.09 123.58L1748.13 123.58L1750.18 123.57L1752.22 123.57L1754.26 123.57L1756.31 123.57L1758.35 123.57L1760.39 123.57L1762.44 123.57L1764.48 123.56L1766.52 123.56L1768.57 123.56L1770.61 123.56L1772.65 123.56L1774.70 123.56L1776.74 123.56L1778.78 123.55L1780.83 123.55L1782.87 123.55L1784.91 123.55L1786.96 123.55L1789.00 123.55L1791.04 123.55L1793.09 123.55L1795.13 123.54L1797.17 123.54L1799.22 123.54L1801.26 123.54L1803.30 123.54L1805.35 123.54L1807.39 123.54L1809.43 123.54L1811.48 123.54L1813.52 123.53L1815.56 123.53L1817.61 123.53"/>
<path stroke="#ff0000" d="M1389.46 411.3L1598.93 411.3"/>
<path stroke="#00ff00" d="M1389.46 522.4L1598.93 522.4"/>
<path stroke="#0000ff" d="M1389.46 633.9L1598.93 633.9"/>
<path stroke="#ff00ff" d="M1389.46 745.4L1598.93 745.4"/>
<path stroke="#000000" d="M1389.46 857.0L1598.93 857.0"/>
</g>
<g fill="#000">
<rect x="293" y="18" width="7" height="1340"/>
<rect x="2216" y="18" width="6.3" height="1340"/>
<rect x="293" y="18" width="1929.3" height="5.9"/>
<rect x="293" y="1352" width="1929.3" height="6"/>
<rect x="299" y="1241.0" width="28" height="5.9"/>
<rect x="299" y="1129.8" width="13" height="5.9"/>
<rect x="299" y="1018.6" width="28" height="5.9"/>
<rect x="299" y="907.4" width="13" height="5.9"/>
<rect x="299" y="796.2" width="28" height="5.9"/>
<rect x="299" y="685.0" width="13" height="5.9"/>
<rect x="299" y="573.8" width="28" height="5.9"/>
<rect x="299" y="462.6" width="13" height="5.9"/>
<rect x="299" y="351.4" width="28" height="5.9"/>
<rect x="299" y="240.2" width="13" height="5.9"/>
<rect x="299" y="129.0" width="28" height="5.9"/>
<rect x="384.0" y="1328" width="6.8" height="25"/>
<rect x="498.9" y="1342" width="6" height="11"/>
<rect x="612.9" y="1328" width="6.8" height="25"/>
<rect x="727.9" y="1342" width="6" height="11"/>
<rect x="841.8" y="1328" width="6.8" height="25"/>
<rect x="956.8" y="1342" width="6" height="11"/>
<rect x="1070.7" y="1328" width="6.8" height="25"/>
<rect x="1185.7" y="1342" width="6" height="11"/>
<rect x="1299.6" y="1328" width="6.8" height="25"/>
<rect x="1414.5" y="1342" width="6" height="11"/>
<rect x="1528.5" y="1328" width="6.8" height="25"/>
<rect x="1643.5" y="1342" width="6" height="11"/>
<rect x="1757.4" y="1328" width="6.8" height="25"/>
<rect x="1872.4" y="1342" width="6" height="11"/>
<rect x="1986.3" y="1328" width="6.8" height="25"/>
<rect x="2101.2" y="1342" width="6" height="11"/>
</g>
<text transform="matrix(1.0167 0 0 0.8500 361.93 1441.60)" font-size="100">0</text>
<text transform="matrix(1.0189 0 0 0.8500 563.69 1441.60)" font-size="100">50</text>
<text transform="matrix(0.9891 0 0 0.8500 770.70 1441.60)" font-size="100">100</text>
<text transform="matrix(0.9876 0 0 0.8500 999.81 1441.60)" font-size="100">150</text>
<text transform="matrix(0.9754 0 0 0.8500 1229.80 1441.60)" font-size="100">200</text>
<text transform="matrix(0.9754 0 0 0.8500 1459.20 1441.60)" font-size="100">250</text>
<text transform="matrix(0.9823 0 0 0.8500 1686.39 1441.60)" font-size="100">300</text>
<text transform="matrix(0.9858 0 0 0.8500 1915.17 1441.60)" font-size="100">350</text>
<text transform="matrix(0.9660 0 0 0.8500 2146.07 1441.60)" font-size="100">400</text>
<text transform="matrix(0.9781 0 0 0.8500 117.20 151.20)" font-size="100">100</text>
<text transform="matrix(0.9707 0 0 0.8500 166.82 373.60)" font-size="100">80</text>
<text transform="matrix(0.9815 0 0 0.8500 166.27 596.00)" font-size="100">60</text>
<text transform="matrix(0.9862 0 0 0.8500 165.83 818.40)" font-size="100">40</text>
<text transform="matrix(0.9815 0 0 0.8500 166.27 1040.80)" font-size="100">20</text>
<text transform="matrix(0.9905 0 0 0.8500 214.94 1263.20)" font-size="100">0</text>
<text transform="matrix(0.9778 0 0 0.7880 1810.89 439.90)" font-size="100">OPC</text>
<text transform="matrix(0.8860 0 0 0.7880 1812.14 551.40)" font-size="100">BFP</text>
<text transform="matrix(0.9458 0 0 0.7880 1811.02 662.70)" font-size="100">QS</text>
<text transform="matrix(0.8930 0 0 0.7880 1808.55 773.10)" font-size="100">SF</text>
<text transform="matrix(0.9400 0 0 0.7880 1810.78 884.90)" font-size="100">MS</text>
<text transform="matrix(1.0391 0 0 0.8400 996.58 1537.60)" font-size="100">Particle</text>
<text transform="matrix(1.0419 0 0 0.8400 1336.73 1537.60)" font-size="100">size</text>
<text transform="matrix(1.0473 0 0 0.8400 1524.81 1537.60)" font-size="100">(um)</text>
<text transform="translate(75.5 1201.82) rotate(-90) scale(0.9113 0.8754)" font-size="100">The</text>
<text transform="translate(75.5 1044.69) rotate(-90) scale(0.8966 0.8754)" font-size="100">percent</text>
<text transform="translate(75.5 752.98) rotate(-90) scale(0.9422 0.8754)" font-size="100">passing</text>
<text transform="translate(75.5 457.54) rotate(-90) scale(0.9722 0.8754)" font-size="100">rate</text>
<text transform="translate(75.5 293.69) rotate(-90) scale(0.8227 0.8754)" font-size="100">(%)</text>
</svg></body></html>
